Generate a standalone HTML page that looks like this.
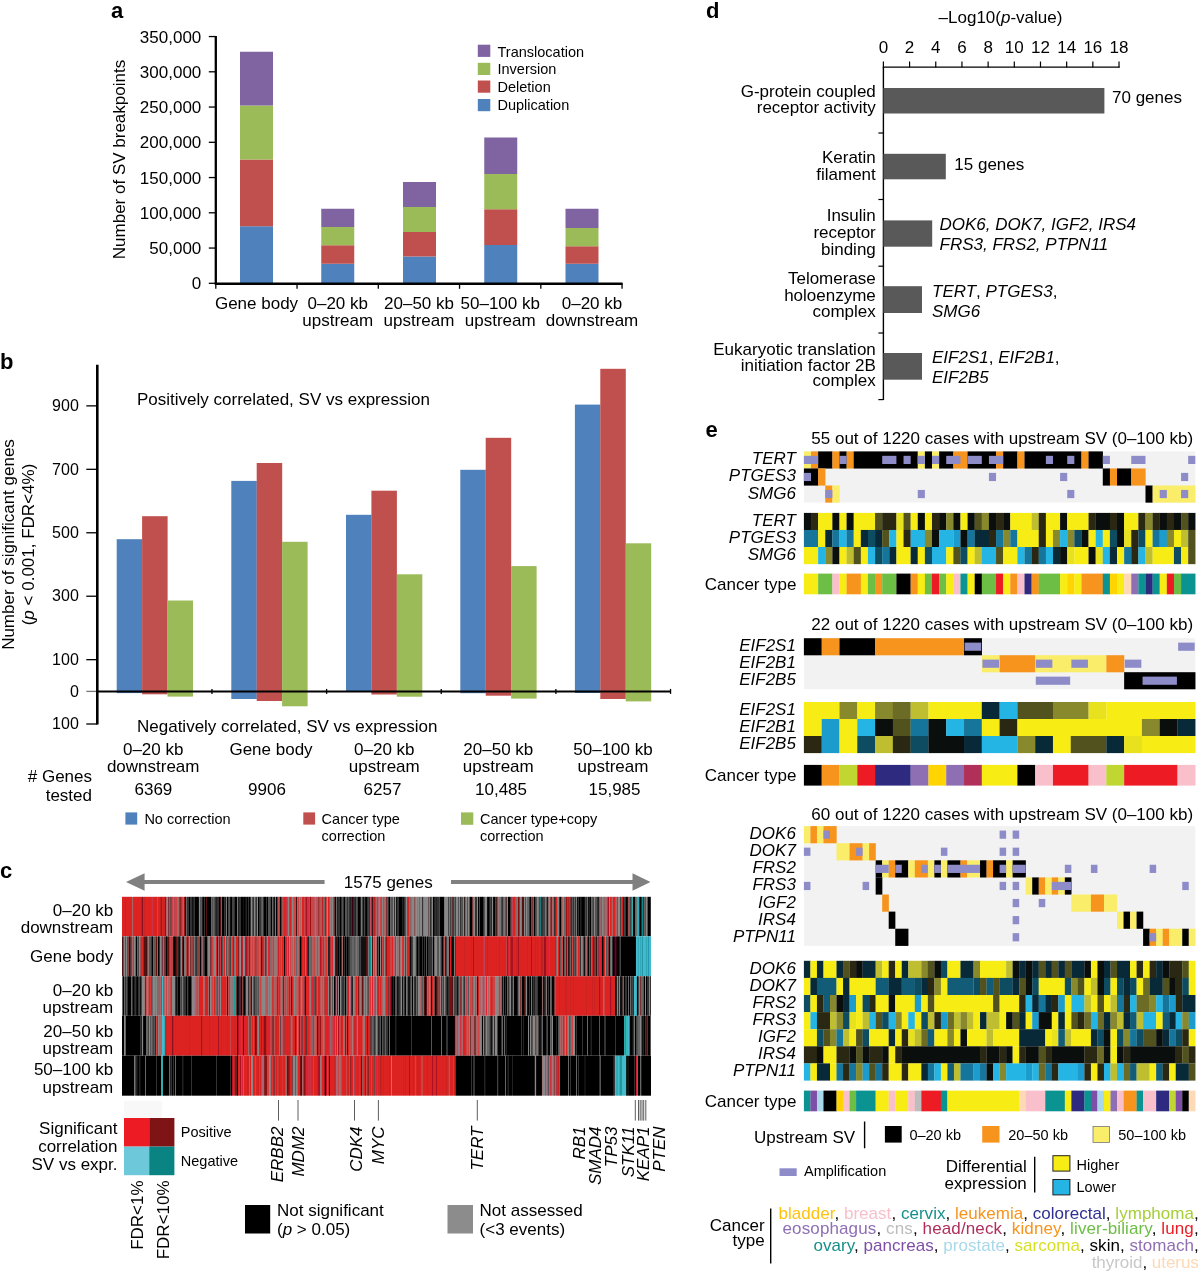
<!DOCTYPE html>
<html lang="en"><head><meta charset="utf-8"><title>Figure</title>
<style>
html,body{margin:0;padding:0;background:#fff}
svg{display:block}
text{font-family:"Liberation Sans",Arial,Helvetica,sans-serif;font-size:17px;fill:#000}
.b{font-weight:bold}
.i{font-style:italic}
</style></head><body>
<svg width="1200" height="1273" viewBox="0 0 1200 1273">
<rect width="1200" height="1273" fill="#fff"/>
<g id="panel-a">
<text x="111" y="17.5" style="font-size:22px" class="b">a</text>
<text transform="translate(124.5 159.5) rotate(-90)" text-anchor="middle">Number of SV breakpoints</text>
<line x1="208.8" y1="283.3" x2="215.8" y2="283.3" stroke="#000" stroke-width="1.3"/>
<text x="201.3" y="289.3" text-anchor="end">0</text>
<line x1="208.8" y1="248.05" x2="215.8" y2="248.05" stroke="#000" stroke-width="1.3"/>
<text x="201.3" y="254.05" text-anchor="end">50,000</text>
<line x1="208.8" y1="212.8" x2="215.8" y2="212.8" stroke="#000" stroke-width="1.3"/>
<text x="201.3" y="218.8" text-anchor="end">100,000</text>
<line x1="208.8" y1="177.55" x2="215.8" y2="177.55" stroke="#000" stroke-width="1.3"/>
<text x="201.3" y="183.55" text-anchor="end">150,000</text>
<line x1="208.8" y1="142.3" x2="215.8" y2="142.3" stroke="#000" stroke-width="1.3"/>
<text x="201.3" y="148.3" text-anchor="end">200,000</text>
<line x1="208.8" y1="107.05" x2="215.8" y2="107.05" stroke="#000" stroke-width="1.3"/>
<text x="201.3" y="113.05" text-anchor="end">250,000</text>
<line x1="208.8" y1="71.8" x2="215.8" y2="71.8" stroke="#000" stroke-width="1.3"/>
<text x="201.3" y="77.8" text-anchor="end">300,000</text>
<line x1="208.8" y1="36.55" x2="215.8" y2="36.55" stroke="#000" stroke-width="1.3"/>
<text x="201.3" y="42.55" text-anchor="end">350,000</text>
<rect x="240" y="226.25" width="33" height="57.05" fill="#4F81BD"/>
<rect x="240" y="159.5" width="33" height="66.75" fill="#C0504D"/>
<rect x="240" y="105.5" width="33" height="54" fill="#9BBB59"/>
<rect x="240" y="51.75" width="33" height="53.75" fill="#8064A2"/>
<rect x="321.25" y="263.75" width="33" height="19.55" fill="#4F81BD"/>
<rect x="321.25" y="245.25" width="33" height="18.5" fill="#C0504D"/>
<rect x="321.25" y="227" width="33" height="18.25" fill="#9BBB59"/>
<rect x="321.25" y="208.75" width="33" height="18.25" fill="#8064A2"/>
<rect x="403" y="256.5" width="33" height="26.8" fill="#4F81BD"/>
<rect x="403" y="232" width="33" height="24.5" fill="#C0504D"/>
<rect x="403" y="207" width="33" height="25" fill="#9BBB59"/>
<rect x="403" y="182" width="33" height="25" fill="#8064A2"/>
<rect x="484.25" y="245" width="33" height="38.3" fill="#4F81BD"/>
<rect x="484.25" y="209.25" width="33" height="35.75" fill="#C0504D"/>
<rect x="484.25" y="174" width="33" height="35.25" fill="#9BBB59"/>
<rect x="484.25" y="137.5" width="33" height="36.5" fill="#8064A2"/>
<rect x="565.5" y="263.75" width="33" height="19.55" fill="#4F81BD"/>
<rect x="565.5" y="246.25" width="33" height="17.5" fill="#C0504D"/>
<rect x="565.5" y="228" width="33" height="18.25" fill="#9BBB59"/>
<rect x="565.5" y="208.75" width="33" height="19.25" fill="#8064A2"/>
<line x1="215.8" y1="36" x2="215.8" y2="284.3" stroke="#000" stroke-width="2.3"/>
<line x1="214.8" y1="283.8" x2="622.5" y2="283.8" stroke="#000" stroke-width="2.4"/>
<line x1="215.8" y1="283.3" x2="215.8" y2="288.8" stroke="#000" stroke-width="1.3"/>
<line x1="297.05" y1="283.3" x2="297.05" y2="288.8" stroke="#000" stroke-width="1.3"/>
<line x1="378.3" y1="283.3" x2="378.3" y2="288.8" stroke="#000" stroke-width="1.3"/>
<line x1="459.55" y1="283.3" x2="459.55" y2="288.8" stroke="#000" stroke-width="1.3"/>
<line x1="540.8" y1="283.3" x2="540.8" y2="288.8" stroke="#000" stroke-width="1.3"/>
<line x1="622.05" y1="283.3" x2="622.05" y2="288.8" stroke="#000" stroke-width="1.3"/>
<text x="256.5" y="308.8" text-anchor="middle">Gene body</text>
<text x="337.75" y="308.8" text-anchor="middle">0–20 kb</text>
<text x="337.75" y="325.6" text-anchor="middle">upstream</text>
<text x="419" y="308.8" text-anchor="middle">20–50 kb</text>
<text x="419" y="325.6" text-anchor="middle">upstream</text>
<text x="500.25" y="308.8" text-anchor="middle">50–100 kb</text>
<text x="500.25" y="325.6" text-anchor="middle">upstream</text>
<text x="592" y="308.8" text-anchor="middle">0–20 kb</text>
<text x="592" y="325.6" text-anchor="middle">downstream</text>
<rect x="477.8" y="44.7" width="12.5" height="12.2" fill="#8064A2"/>
<text x="497.5" y="56.7" style="font-size:14.5px">Translocation</text>
<rect x="477.8" y="62.8" width="12.5" height="12.2" fill="#9BBB59"/>
<text x="497.5" y="73.9" style="font-size:14.5px">Inversion</text>
<rect x="477.8" y="80.5" width="12.5" height="12.2" fill="#C0504D"/>
<text x="497.5" y="92" style="font-size:14.5px">Deletion</text>
<rect x="477.8" y="99" width="12.5" height="12.2" fill="#4F81BD"/>
<text x="497.5" y="110.3" style="font-size:14.5px">Duplication</text>
</g>
<g id="panel-b">
<text x="0" y="369" style="font-size:22px" class="b">b</text>
<text transform="translate(13.9 544.5) rotate(-90)" text-anchor="middle">Number of significant genes</text>
<text transform="translate(33.7 544.5) rotate(-90)" text-anchor="middle">(<tspan class="i">p</tspan> &lt; 0.001, FDR&lt;4%)</text>
<line x1="86.3" y1="405.87" x2="97.3" y2="405.87" stroke="#000" stroke-width="1.3"/>
<text x="78.8" y="411.07" text-anchor="end" style="font-size:16px">900</text>
<line x1="86.3" y1="469.32" x2="97.3" y2="469.32" stroke="#000" stroke-width="1.3"/>
<text x="78.8" y="474.52" text-anchor="end" style="font-size:16px">700</text>
<line x1="86.3" y1="532.77" x2="97.3" y2="532.77" stroke="#000" stroke-width="1.3"/>
<text x="78.8" y="537.98" text-anchor="end" style="font-size:16px">500</text>
<line x1="86.3" y1="596.22" x2="97.3" y2="596.22" stroke="#000" stroke-width="1.3"/>
<text x="78.8" y="601.42" text-anchor="end" style="font-size:16px">300</text>
<line x1="86.3" y1="659.67" x2="97.3" y2="659.67" stroke="#000" stroke-width="1.3"/>
<text x="78.8" y="664.88" text-anchor="end" style="font-size:16px">100</text>
<line x1="86.3" y1="691.4" x2="97.3" y2="691.4" stroke="#777" stroke-width="1.3"/>
<text x="78.8" y="696.6" text-anchor="end" style="font-size:16px">0</text>
<line x1="86.3" y1="724" x2="97.3" y2="724" stroke="#000" stroke-width="1.3"/>
<text x="78.8" y="729.2" text-anchor="end" style="font-size:16px">100</text>
<rect x="116.7" y="539.2" width="25.5" height="153.9" fill="#4F81BD"/>
<rect x="142.1" y="516.2" width="25.5" height="178.1" fill="#C0504D"/>
<rect x="167.5" y="600.5" width="25.5" height="96.1" fill="#9BBB59"/>
<rect x="231.3" y="480.9" width="25.5" height="218.1" fill="#4F81BD"/>
<rect x="256.7" y="463" width="25.5" height="238" fill="#C0504D"/>
<rect x="282.1" y="541.8" width="25.5" height="164.5" fill="#9BBB59"/>
<rect x="346" y="514.8" width="25.5" height="176.8" fill="#4F81BD"/>
<rect x="371.4" y="490.7" width="25.5" height="203.8" fill="#C0504D"/>
<rect x="396.8" y="574.3" width="25.5" height="122.4" fill="#9BBB59"/>
<rect x="460.3" y="469.8" width="25.5" height="223.4" fill="#4F81BD"/>
<rect x="485.7" y="437.8" width="25.5" height="257.9" fill="#C0504D"/>
<rect x="511.1" y="566.1" width="25.5" height="132.5" fill="#9BBB59"/>
<rect x="574.9" y="404.6" width="25.5" height="288.4" fill="#4F81BD"/>
<rect x="600.3" y="368.8" width="25.5" height="330.2" fill="#C0504D"/>
<rect x="625.7" y="543.3" width="25.5" height="158.1" fill="#9BBB59"/>
<line x1="97.3" y1="364.8" x2="97.3" y2="724.6" stroke="#000" stroke-width="2.6"/>
<line x1="96.3" y1="691.4" x2="670.8" y2="691.4" stroke="#000" stroke-width="2"/>
<line x1="211.95" y1="688.9" x2="211.95" y2="693.9" stroke="#000" stroke-width="1.3"/>
<line x1="326.6" y1="688.9" x2="326.6" y2="693.9" stroke="#000" stroke-width="1.3"/>
<line x1="441.25" y1="688.9" x2="441.25" y2="693.9" stroke="#000" stroke-width="1.3"/>
<line x1="555.9" y1="688.9" x2="555.9" y2="693.9" stroke="#000" stroke-width="1.3"/>
<line x1="670.55" y1="688.9" x2="670.55" y2="693.9" stroke="#000" stroke-width="1.3"/>
<text x="137" y="404.7">Positively correlated, SV vs expression</text>
<text x="137" y="731.6">Negatively correlated, SV vs expression</text>
<text x="153.2" y="754.5" text-anchor="middle">0–20 kb</text>
<text x="153.2" y="771.9" text-anchor="middle">downstream</text>
<text x="153.4" y="794.8" text-anchor="middle">6369</text>
<text x="271" y="754.5" text-anchor="middle">Gene body</text>
<text x="267" y="794.8" text-anchor="middle">9906</text>
<text x="384.3" y="754.5" text-anchor="middle">0–20 kb</text>
<text x="384.3" y="771.9" text-anchor="middle">upstream</text>
<text x="382.5" y="794.8" text-anchor="middle">6257</text>
<text x="498.3" y="754.5" text-anchor="middle">20–50 kb</text>
<text x="498.3" y="771.9" text-anchor="middle">upstream</text>
<text x="501" y="794.8" text-anchor="middle">10,485</text>
<text x="613" y="754.5" text-anchor="middle">50–100 kb</text>
<text x="613" y="771.9" text-anchor="middle">upstream</text>
<text x="614.5" y="794.8" text-anchor="middle">15,985</text>
<text x="92" y="782" text-anchor="end"># Genes</text>
<text x="92" y="800.7" text-anchor="end">tested</text>
<rect x="125.4" y="812.4" width="11.8" height="12.2" fill="#4F81BD"/>
<text x="144.4" y="823.6" style="font-size:14.5px">No correction</text>
<rect x="303.3" y="812.4" width="11.8" height="12.2" fill="#C0504D"/>
<text x="321.6" y="823.6" style="font-size:14.5px">Cancer type</text>
<text x="321.6" y="840.8" style="font-size:14.5px">correction</text>
<rect x="461" y="812.4" width="12.3" height="12.4" fill="#9BBB59"/>
<text x="480" y="823.6" style="font-size:14.5px">Cancer type+copy</text>
<text x="480" y="840.8" style="font-size:14.5px">correction</text>
</g>
<g id="panel-c">
<text x="0" y="878.3" style="font-size:22px" class="b">c</text>
<path d="M126 882 L144.6 873.2 L144.6 880 L324.6 880 L324.6 884 L144.6 884 L144.6 890.8Z" fill="#808080"/>
<path d="M650.5 882 L632.5 873.2 L632.5 880 L451 880 L451 884 L632.5 884 L632.5 890.8Z" fill="#808080"/>
<text x="388.3" y="887.7" text-anchor="middle">1575 genes</text>
<text x="113.3" y="915.6" text-anchor="end">0–20 kb</text>
<text x="113.3" y="932.5" text-anchor="end">downstream</text>
<text x="113.3" y="962.3" text-anchor="end">Gene body</text>
<text x="113.3" y="995.8" text-anchor="end">0–20 kb</text>
<text x="113.3" y="1013.4" text-anchor="end">upstream</text>
<text x="113.3" y="1036.6" text-anchor="end">20–50 kb</text>
<text x="113.3" y="1054" text-anchor="end">upstream</text>
<text x="113.3" y="1075" text-anchor="end">50–100 kb</text>
<text x="113.3" y="1092.7" text-anchor="end">upstream</text>
<path d="M122.5 896.8v39.5M123.5 896.8v39.5M124.5 896.8v39.5M126.5 896.8v39.5M127.5 896.8v39.5M128.5 896.8v39.5M129.5 896.8v39.5M130.5 896.8v39.5M131.5 896.8v39.5M134.5 896.8v39.5M135.5 896.8v39.5M136.5 896.8v39.5M137.5 896.8v39.5M138.5 896.8v39.5M139.5 896.8v39.5M140.5 896.8v39.5M143.5 896.8v39.5M145.5 896.8v39.5M146.5 896.8v39.5M147.5 896.8v39.5M148.5 896.8v39.5M149.5 896.8v39.5M150.5 896.8v39.5M153.5 896.8v39.5M154.5 896.8v39.5M156.5 896.8v39.5M158.5 896.8v39.5M159.5 896.8v39.5M162.5 896.8v39.5M171.5 896.8v39.5M181.5 896.8v39.5M284.5 896.8v39.5M290.5 896.8v39.5M302.5 896.8v39.5M303.5 896.8v39.5M305.5 896.8v39.5M328.5 896.8v39.5M373.5 896.8v39.5M387.5 896.8v39.5M408.5 896.8v39.5M497.5 896.8v39.5M511.5 896.8v39.5M514.5 896.8v39.5M556.5 896.8v39.5M561.5 896.8v39.5M569.5 896.8v39.5M610.5 896.8v39.5M614.5 896.8v39.5" stroke="#d22"/>
<path d="M125.5 896.8v39.5M144.5 896.8v39.5M155.5 896.8v39.5M163.5 896.8v39.5M164.5 896.8v39.5M371.5 896.8v39.5M467.5 896.8v39.5M622.5 896.8v39.5" stroke="#c22"/>
<path d="M132.5 896.8v39.5M166.5 896.8v39.5M173.5 896.8v39.5M177.5 896.8v39.5M178.5 896.8v39.5M183.5 896.8v39.5M293.5 896.8v39.5M297.5 896.8v39.5M300.5 896.8v39.5M331.5 896.8v39.5M376.5 896.8v39.5M384.5 896.8v39.5M385.5 896.8v39.5M411.5 896.8v39.5M423.5 896.8v39.5M429.5 896.8v39.5M473.5 896.8v39.5M499.5 896.8v39.5M517.5 896.8v39.5M521.5 896.8v39.5M552.5 896.8v39.5M557.5 896.8v39.5M562.5 896.8v39.5M603.5 896.8v39.5M605.5 896.8v39.5M606.5 896.8v39.5M612.5 896.8v39.5M616.5 896.8v39.5" stroke="#a66"/>
<path d="M133.5 896.8v39.5M151.5 896.8v39.5M285.5 896.8v39.5M617.5 896.8v39.5" stroke="#d23"/>
<path d="M141.5 896.8v39.5M160.5 896.8v39.5M322.5 896.8v39.5M374.5 896.8v39.5M568.5 896.8v39.5" stroke="#b22"/>
<path d="M142.5 896.8v39.5" stroke="#812"/>
<path d="M152.5 896.8v39.5M283.5 896.8v39.5M286.5 896.8v39.5M289.5 896.8v39.5M308.5 896.8v39.5M333.5 896.8v39.5M377.5 896.8v39.5" stroke="#c34"/>
<path d="M157.5 896.8v39.5M169.5 896.8v39.5M172.5 896.8v39.5M175.5 896.8v39.5M176.5 896.8v39.5M182.5 896.8v39.5M294.5 896.8v39.5M295.5 896.8v39.5M298.5 896.8v39.5M304.5 896.8v39.5M311.5 896.8v39.5M312.5 896.8v39.5M313.5 896.8v39.5M326.5 896.8v39.5M329.5 896.8v39.5M380.5 896.8v39.5M383.5 896.8v39.5M419.5 896.8v39.5M515.5 896.8v39.5M615.5 896.8v39.5" stroke="#c44"/>
<path d="M161.5 896.8v39.5M281.5 896.8v39.5M306.5 896.8v39.5M608.5 896.8v39.5" stroke="#a12"/>
<path d="M165.5 896.8v39.5M184.5 896.8v39.5M310.5 896.8v39.5M566.5 896.8v39.5" stroke="#911"/>
<path d="M167.5 896.8v39.5M199.5 896.8v39.5M251.5 896.8v39.5M254.5 896.8v39.5M257.5 896.8v39.5M288.5 896.8v39.5M292.5 896.8v39.5M299.5 896.8v39.5M301.5 896.8v39.5M332.5 896.8v39.5M379.5 896.8v39.5M382.5 896.8v39.5M393.5 896.8v39.5M395.5 896.8v39.5M406.5 896.8v39.5M412.5 896.8v39.5M413.5 896.8v39.5M418.5 896.8v39.5M420.5 896.8v39.5M421.5 896.8v39.5M424.5 896.8v39.5M425.5 896.8v39.5M426.5 896.8v39.5M427.5 896.8v39.5M432.5 896.8v39.5M445.5 896.8v39.5M446.5 896.8v39.5M447.5 896.8v39.5M456.5 896.8v39.5M457.5 896.8v39.5M459.5 896.8v39.5M463.5 896.8v39.5M466.5 896.8v39.5M468.5 896.8v39.5M474.5 896.8v39.5M477.5 896.8v39.5M485.5 896.8v39.5M486.5 896.8v39.5M492.5 896.8v39.5M507.5 896.8v39.5M520.5 896.8v39.5M524.5 896.8v39.5M526.5 896.8v39.5M537.5 896.8v39.5M549.5 896.8v39.5M558.5 896.8v39.5M563.5 896.8v39.5M594.5 896.8v39.5M602.5 896.8v39.5M609.5 896.8v39.5M619.5 896.8v39.5M646.5 896.8v39.5" stroke="#888"/>
<path d="M168.5 896.8v39.5M439.5 896.8v39.5M501.5 896.8v39.5M539.5 896.8v39.5" stroke="#734"/>
<path d="M170.5 896.8v39.5" stroke="#744"/>
<path d="M174.5 896.8v39.5M287.5 896.8v39.5M291.5 896.8v39.5M309.5 896.8v39.5M465.5 896.8v39.5M512.5 896.8v39.5" stroke="#b45"/>
<path d="M179.5 896.8v39.5M200.5 896.8v39.5M212.5 896.8v39.5M214.5 896.8v39.5M229.5 896.8v39.5M252.5 896.8v39.5M255.5 896.8v39.5M261.5 896.8v39.5M268.5 896.8v39.5M269.5 896.8v39.5M342.5 896.8v39.5M345.5 896.8v39.5M346.5 896.8v39.5M348.5 896.8v39.5M356.5 896.8v39.5M391.5 896.8v39.5M392.5 896.8v39.5M431.5 896.8v39.5M458.5 896.8v39.5M461.5 896.8v39.5M462.5 896.8v39.5M469.5 896.8v39.5M484.5 896.8v39.5M519.5 896.8v39.5M531.5 896.8v39.5M536.5 896.8v39.5M546.5 896.8v39.5M572.5 896.8v39.5M592.5 896.8v39.5M595.5 896.8v39.5M596.5 896.8v39.5M645.5 896.8v39.5M647.5 896.8v39.5" stroke="#555"/>
<path d="M180.5 896.8v39.5" stroke="#822"/>
<path d="M185.5 896.8v39.5" stroke="#200"/>
<path d="M186.5 896.8v39.5M211.5 896.8v39.5M213.5 896.8v39.5M221.5 896.8v39.5M262.5 896.8v39.5M272.5 896.8v39.5M336.5 896.8v39.5M390.5 896.8v39.5M451.5 896.8v39.5M454.5 896.8v39.5M503.5 896.8v39.5M527.5 896.8v39.5M528.5 896.8v39.5M533.5 896.8v39.5M564.5 896.8v39.5M565.5 896.8v39.5M574.5 896.8v39.5M587.5 896.8v39.5M591.5 896.8v39.5M599.5 896.8v39.5M601.5 896.8v39.5M611.5 896.8v39.5M621.5 896.8v39.5M629.5 896.8v39.5M635.5 896.8v39.5M644.5 896.8v39.5" stroke="#666"/>
<path d="M187.5 896.8v39.5M188.5 896.8v39.5M190.5 896.8v39.5M191.5 896.8v39.5M194.5 896.8v39.5M204.5 896.8v39.5M215.5 896.8v39.5M217.5 896.8v39.5M218.5 896.8v39.5M224.5 896.8v39.5M234.5 896.8v39.5M239.5 896.8v39.5M240.5 896.8v39.5M248.5 896.8v39.5M250.5 896.8v39.5M253.5 896.8v39.5M256.5 896.8v39.5M259.5 896.8v39.5M260.5 896.8v39.5M263.5 896.8v39.5M266.5 896.8v39.5M273.5 896.8v39.5M338.5 896.8v39.5M339.5 896.8v39.5M341.5 896.8v39.5M343.5 896.8v39.5M347.5 896.8v39.5M349.5 896.8v39.5M351.5 896.8v39.5M354.5 896.8v39.5M367.5 896.8v39.5M369.5 896.8v39.5M388.5 896.8v39.5M394.5 896.8v39.5M397.5 896.8v39.5M398.5 896.8v39.5M404.5 896.8v39.5M422.5 896.8v39.5M430.5 896.8v39.5M435.5 896.8v39.5M437.5 896.8v39.5M438.5 896.8v39.5M460.5 896.8v39.5M475.5 896.8v39.5M476.5 896.8v39.5M483.5 896.8v39.5M502.5 896.8v39.5M529.5 896.8v39.5M541.5 896.8v39.5M542.5 896.8v39.5M554.5 896.8v39.5M559.5 896.8v39.5M571.5 896.8v39.5M573.5 896.8v39.5M575.5 896.8v39.5M578.5 896.8v39.5M586.5 896.8v39.5M597.5 896.8v39.5M625.5 896.8v39.5M639.5 896.8v39.5M641.5 896.8v39.5M643.5 896.8v39.5M650.5 896.8v39.5" stroke="#333"/>
<path d="M189.5 896.8v39.5M195.5 896.8v39.5M196.5 896.8v39.5M197.5 896.8v39.5M203.5 896.8v39.5M205.5 896.8v39.5M207.5 896.8v39.5M208.5 896.8v39.5M209.5 896.8v39.5M210.5 896.8v39.5M219.5 896.8v39.5M222.5 896.8v39.5M223.5 896.8v39.5M227.5 896.8v39.5M231.5 896.8v39.5M235.5 896.8v39.5M236.5 896.8v39.5M241.5 896.8v39.5M242.5 896.8v39.5M244.5 896.8v39.5M247.5 896.8v39.5M249.5 896.8v39.5M258.5 896.8v39.5M264.5 896.8v39.5M265.5 896.8v39.5M267.5 896.8v39.5M271.5 896.8v39.5M276.5 896.8v39.5M280.5 896.8v39.5M335.5 896.8v39.5M340.5 896.8v39.5M344.5 896.8v39.5M358.5 896.8v39.5M359.5 896.8v39.5M366.5 896.8v39.5M389.5 896.8v39.5M399.5 896.8v39.5M400.5 896.8v39.5M401.5 896.8v39.5M433.5 896.8v39.5M440.5 896.8v39.5M441.5 896.8v39.5M442.5 896.8v39.5M443.5 896.8v39.5M470.5 896.8v39.5M471.5 896.8v39.5M478.5 896.8v39.5M480.5 896.8v39.5M481.5 896.8v39.5M482.5 896.8v39.5M488.5 896.8v39.5M494.5 896.8v39.5M508.5 896.8v39.5M509.5 896.8v39.5M530.5 896.8v39.5M534.5 896.8v39.5M560.5 896.8v39.5M579.5 896.8v39.5M582.5 896.8v39.5M583.5 896.8v39.5M590.5 896.8v39.5M626.5 896.8v39.5M633.5 896.8v39.5M634.5 896.8v39.5M640.5 896.8v39.5M648.5 896.8v39.5M649.5 896.8v39.5" stroke="#000"/>
<path d="M192.5 896.8v39.5M198.5 896.8v39.5M230.5 896.8v39.5M245.5 896.8v39.5M274.5 896.8v39.5M363.5 896.8v39.5M365.5 896.8v39.5M396.5 896.8v39.5M403.5 896.8v39.5M487.5 896.8v39.5M493.5 896.8v39.5M577.5 896.8v39.5M581.5 896.8v39.5M584.5 896.8v39.5M588.5 896.8v39.5M627.5 896.8v39.5" stroke="#111"/>
<path d="M193.5 896.8v39.5M202.5 896.8v39.5M216.5 896.8v39.5M225.5 896.8v39.5M238.5 896.8v39.5M246.5 896.8v39.5M337.5 896.8v39.5M350.5 896.8v39.5M355.5 896.8v39.5M360.5 896.8v39.5M402.5 896.8v39.5M434.5 896.8v39.5M436.5 896.8v39.5M489.5 896.8v39.5M580.5 896.8v39.5M589.5 896.8v39.5M598.5 896.8v39.5" stroke="#222"/>
<path d="M201.5 896.8v39.5M505.5 896.8v39.5M550.5 896.8v39.5M567.5 896.8v39.5M613.5 896.8v39.5" stroke="#844"/>
<path d="M206.5 896.8v39.5M220.5 896.8v39.5M522.5 896.8v39.5M523.5 896.8v39.5" stroke="#511"/>
<path d="M226.5 896.8v39.5M237.5 896.8v39.5M275.5 896.8v39.5M361.5 896.8v39.5M444.5 896.8v39.5M449.5 896.8v39.5M500.5 896.8v39.5M504.5 896.8v39.5M538.5 896.8v39.5M545.5 896.8v39.5M576.5 896.8v39.5" stroke="#777"/>
<path d="M228.5 896.8v39.5M232.5 896.8v39.5M233.5 896.8v39.5M270.5 896.8v39.5M277.5 896.8v39.5M325.5 896.8v39.5M357.5 896.8v39.5M362.5 896.8v39.5M364.5 896.8v39.5M368.5 896.8v39.5M448.5 896.8v39.5M450.5 896.8v39.5M455.5 896.8v39.5M490.5 896.8v39.5M495.5 896.8v39.5M535.5 896.8v39.5M543.5 896.8v39.5M544.5 896.8v39.5M585.5 896.8v39.5M593.5 896.8v39.5M620.5 896.8v39.5M624.5 896.8v39.5M630.5 896.8v39.5" stroke="#444"/>
<path d="M243.5 896.8v39.5M352.5 896.8v39.5" stroke="#301"/>
<path d="M278.5 896.8v39.5M316.5 896.8v39.5M317.5 896.8v39.5M320.5 896.8v39.5M321.5 896.8v39.5M409.5 896.8v39.5" stroke="#b55"/>
<path d="M279.5 896.8v39.5M307.5 896.8v39.5M607.5 896.8v39.5" stroke="#a44"/>
<path d="M282.5 896.8v39.5" stroke="#a55"/>
<path d="M296.5 896.8v39.5M372.5 896.8v39.5" stroke="#411"/>
<path d="M314.5 896.8v39.5M370.5 896.8v39.5" stroke="#b56"/>
<path d="M315.5 896.8v39.5M330.5 896.8v39.5M417.5 896.8v39.5M498.5 896.8v39.5" stroke="#977"/>
<path d="M318.5 896.8v39.5M405.5 896.8v39.5" stroke="#933"/>
<path d="M319.5 896.8v39.5" stroke="#d33"/>
<path d="M323.5 896.8v39.5M324.5 896.8v39.5" stroke="#766"/>
<path d="M327.5 896.8v39.5M416.5 896.8v39.5M618.5 896.8v39.5" stroke="#988"/>
<path d="M334.5 896.8v39.5M555.5 896.8v39.5" stroke="#633"/>
<path d="M353.5 896.8v39.5" stroke="#611"/>
<path d="M375.5 896.8v39.5" stroke="#a45"/>
<path d="M378.5 896.8v39.5" stroke="#a67"/>
<path d="M381.5 896.8v39.5" stroke="#b44"/>
<path d="M386.5 896.8v39.5M472.5 896.8v39.5M479.5 896.8v39.5M532.5 896.8v39.5M570.5 896.8v39.5" stroke="#733"/>
<path d="M407.5 896.8v39.5" stroke="#b33"/>
<path d="M410.5 896.8v39.5M516.5 896.8v39.5M548.5 896.8v39.5M553.5 896.8v39.5M604.5 896.8v39.5" stroke="#866"/>
<path d="M414.5 896.8v39.5" stroke="#855"/>
<path d="M415.5 896.8v39.5" stroke="#877"/>
<path d="M428.5 896.8v39.5M513.5 896.8v39.5" stroke="#655"/>
<path d="M452.5 896.8v39.5M453.5 896.8v39.5M506.5 896.8v39.5M551.5 896.8v39.5" stroke="#533"/>
<path d="M464.5 896.8v39.5M623.5 896.8v39.5" stroke="#322"/>
<path d="M491.5 896.8v39.5M496.5 896.8v39.5" stroke="#422"/>
<path d="M510.5 896.8v39.5" stroke="#433"/>
<path d="M518.5 896.8v39.5" stroke="#711"/>
<path d="M525.5 896.8v39.5" stroke="#644"/>
<path d="M540.5 896.8v39.5" stroke="#277"/>
<path d="M547.5 896.8v39.5" stroke="#311"/>
<path d="M600.5 896.8v39.5" stroke="#966"/>
<path d="M628.5 896.8v39.5" stroke="#955"/>
<path d="M631.5 896.8v39.5" stroke="#566"/>
<path d="M632.5 896.8v39.5" stroke="#3aa"/>
<path d="M636.5 896.8v39.5" stroke="#677"/>
<path d="M637.5 896.8v39.5M638.5 896.8v39.5" stroke="#3ab"/>
<path d="M642.5 896.8v39.5" stroke="#188"/>
<path d="M122.5 936.3v39.9M144.5 936.3v39.9M145.5 936.3v39.9M217.5 936.3v39.9M366.5 936.3v39.9M615.5 936.3v39.9" stroke="#511"/>
<path d="M123.5 936.3v39.9M125.5 936.3v39.9M127.5 936.3v39.9M149.5 936.3v39.9M150.5 936.3v39.9M180.5 936.3v39.9M197.5 936.3v39.9M222.5 936.3v39.9M226.5 936.3v39.9M229.5 936.3v39.9M350.5 936.3v39.9M351.5 936.3v39.9M354.5 936.3v39.9M369.5 936.3v39.9M378.5 936.3v39.9M426.5 936.3v39.9M438.5 936.3v39.9M564.5 936.3v39.9M574.5 936.3v39.9M601.5 936.3v39.9M606.5 936.3v39.9" stroke="#555"/>
<path d="M124.5 936.3v39.9M126.5 936.3v39.9M134.5 936.3v39.9M139.5 936.3v39.9M160.5 936.3v39.9M181.5 936.3v39.9M189.5 936.3v39.9M208.5 936.3v39.9M209.5 936.3v39.9M214.5 936.3v39.9M215.5 936.3v39.9M243.5 936.3v39.9M244.5 936.3v39.9M267.5 936.3v39.9M293.5 936.3v39.9M333.5 936.3v39.9M334.5 936.3v39.9M373.5 936.3v39.9M375.5 936.3v39.9M380.5 936.3v39.9M384.5 936.3v39.9M404.5 936.3v39.9M413.5 936.3v39.9M414.5 936.3v39.9M435.5 936.3v39.9M436.5 936.3v39.9M439.5 936.3v39.9M557.5 936.3v39.9M581.5 936.3v39.9M605.5 936.3v39.9" stroke="#888"/>
<path d="M128.5 936.3v39.9M198.5 936.3v39.9M201.5 936.3v39.9M437.5 936.3v39.9" stroke="#844"/>
<path d="M129.5 936.3v39.9M173.5 936.3v39.9M336.5 936.3v39.9M568.5 936.3v39.9M596.5 936.3v39.9" stroke="#311"/>
<path d="M130.5 936.3v39.9M455.5 936.3v39.9" stroke="#533"/>
<path d="M131.5 936.3v39.9M262.5 936.3v39.9M510.5 936.3v39.9M541.5 936.3v39.9M542.5 936.3v39.9M595.5 936.3v39.9" stroke="#b22"/>
<path d="M132.5 936.3v39.9M163.5 936.3v39.9M213.5 936.3v39.9M239.5 936.3v39.9M251.5 936.3v39.9M253.5 936.3v39.9M259.5 936.3v39.9M264.5 936.3v39.9M272.5 936.3v39.9M287.5 936.3v39.9M292.5 936.3v39.9M295.5 936.3v39.9M297.5 936.3v39.9M298.5 936.3v39.9M305.5 936.3v39.9M312.5 936.3v39.9M315.5 936.3v39.9M324.5 936.3v39.9M327.5 936.3v39.9M342.5 936.3v39.9M376.5 936.3v39.9M393.5 936.3v39.9M397.5 936.3v39.9M586.5 936.3v39.9M611.5 936.3v39.9" stroke="#a66"/>
<path d="M133.5 936.3v39.9M220.5 936.3v39.9M483.5 936.3v39.9M509.5 936.3v39.9M549.5 936.3v39.9" stroke="#c34"/>
<path d="M135.5 936.3v39.9M137.5 936.3v39.9M153.5 936.3v39.9M171.5 936.3v39.9M296.5 936.3v39.9M310.5 936.3v39.9M352.5 936.3v39.9M353.5 936.3v39.9M355.5 936.3v39.9M357.5 936.3v39.9M358.5 936.3v39.9M432.5 936.3v39.9M434.5 936.3v39.9M440.5 936.3v39.9M570.5 936.3v39.9M607.5 936.3v39.9M610.5 936.3v39.9" stroke="#666"/>
<path d="M136.5 936.3v39.9M152.5 936.3v39.9M158.5 936.3v39.9M166.5 936.3v39.9M174.5 936.3v39.9M183.5 936.3v39.9M200.5 936.3v39.9M205.5 936.3v39.9M206.5 936.3v39.9M300.5 936.3v39.9M338.5 936.3v39.9M340.5 936.3v39.9M343.5 936.3v39.9M345.5 936.3v39.9M347.5 936.3v39.9M379.5 936.3v39.9M410.5 936.3v39.9M417.5 936.3v39.9M420.5 936.3v39.9M421.5 936.3v39.9M423.5 936.3v39.9M425.5 936.3v39.9M427.5 936.3v39.9M433.5 936.3v39.9M442.5 936.3v39.9M452.5 936.3v39.9M563.5 936.3v39.9M588.5 936.3v39.9M602.5 936.3v39.9M609.5 936.3v39.9M613.5 936.3v39.9M617.5 936.3v39.9M618.5 936.3v39.9M621.5 936.3v39.9M622.5 936.3v39.9M623.5 936.3v39.9M624.5 936.3v39.9M625.5 936.3v39.9M626.5 936.3v39.9M627.5 936.3v39.9M628.5 936.3v39.9M629.5 936.3v39.9M630.5 936.3v39.9M631.5 936.3v39.9M632.5 936.3v39.9M633.5 936.3v39.9M634.5 936.3v39.9" stroke="#000"/>
<path d="M138.5 936.3v39.9M195.5 936.3v39.9M230.5 936.3v39.9M360.5 936.3v39.9M412.5 936.3v39.9M446.5 936.3v39.9M575.5 936.3v39.9M587.5 936.3v39.9M620.5 936.3v39.9" stroke="#444"/>
<path d="M140.5 936.3v39.9M228.5 936.3v39.9M576.5 936.3v39.9" stroke="#955"/>
<path d="M141.5 936.3v39.9M142.5 936.3v39.9M147.5 936.3v39.9M169.5 936.3v39.9M207.5 936.3v39.9M224.5 936.3v39.9M236.5 936.3v39.9M237.5 936.3v39.9M247.5 936.3v39.9M255.5 936.3v39.9M263.5 936.3v39.9M282.5 936.3v39.9M285.5 936.3v39.9M299.5 936.3v39.9M302.5 936.3v39.9M321.5 936.3v39.9M323.5 936.3v39.9M383.5 936.3v39.9M385.5 936.3v39.9M387.5 936.3v39.9M388.5 936.3v39.9M389.5 936.3v39.9M392.5 936.3v39.9M395.5 936.3v39.9M407.5 936.3v39.9M408.5 936.3v39.9M450.5 936.3v39.9M456.5 936.3v39.9M457.5 936.3v39.9M458.5 936.3v39.9M459.5 936.3v39.9M460.5 936.3v39.9M461.5 936.3v39.9M462.5 936.3v39.9M463.5 936.3v39.9M465.5 936.3v39.9M466.5 936.3v39.9M467.5 936.3v39.9M468.5 936.3v39.9M469.5 936.3v39.9M470.5 936.3v39.9M472.5 936.3v39.9M474.5 936.3v39.9M475.5 936.3v39.9M476.5 936.3v39.9M477.5 936.3v39.9M478.5 936.3v39.9M479.5 936.3v39.9M480.5 936.3v39.9M481.5 936.3v39.9M482.5 936.3v39.9M485.5 936.3v39.9M486.5 936.3v39.9M488.5 936.3v39.9M489.5 936.3v39.9M490.5 936.3v39.9M491.5 936.3v39.9M492.5 936.3v39.9M493.5 936.3v39.9M494.5 936.3v39.9M495.5 936.3v39.9M496.5 936.3v39.9M497.5 936.3v39.9M498.5 936.3v39.9M500.5 936.3v39.9M501.5 936.3v39.9M502.5 936.3v39.9M503.5 936.3v39.9M504.5 936.3v39.9M505.5 936.3v39.9M513.5 936.3v39.9M514.5 936.3v39.9M515.5 936.3v39.9M519.5 936.3v39.9M520.5 936.3v39.9M521.5 936.3v39.9M522.5 936.3v39.9M523.5 936.3v39.9M524.5 936.3v39.9M525.5 936.3v39.9M526.5 936.3v39.9M528.5 936.3v39.9M529.5 936.3v39.9M530.5 936.3v39.9M532.5 936.3v39.9M533.5 936.3v39.9M534.5 936.3v39.9M536.5 936.3v39.9M538.5 936.3v39.9M539.5 936.3v39.9M540.5 936.3v39.9M543.5 936.3v39.9M546.5 936.3v39.9M547.5 936.3v39.9M550.5 936.3v39.9M551.5 936.3v39.9M552.5 936.3v39.9M553.5 936.3v39.9M554.5 936.3v39.9M558.5 936.3v39.9M578.5 936.3v39.9M592.5 936.3v39.9M599.5 936.3v39.9M604.5 936.3v39.9" stroke="#d22"/>
<path d="M143.5 936.3v39.9M233.5 936.3v39.9M320.5 936.3v39.9M409.5 936.3v39.9" stroke="#b12"/>
<path d="M146.5 936.3v39.9M372.5 936.3v39.9M377.5 936.3v39.9" stroke="#411"/>
<path d="M148.5 936.3v39.9M235.5 936.3v39.9M274.5 936.3v39.9M275.5 936.3v39.9M276.5 936.3v39.9M316.5 936.3v39.9M318.5 936.3v39.9M398.5 936.3v39.9M400.5 936.3v39.9M406.5 936.3v39.9M577.5 936.3v39.9" stroke="#977"/>
<path d="M151.5 936.3v39.9" stroke="#623"/>
<path d="M154.5 936.3v39.9M211.5 936.3v39.9M560.5 936.3v39.9" stroke="#655"/>
<path d="M155.5 936.3v39.9M192.5 936.3v39.9M269.5 936.3v39.9" stroke="#944"/>
<path d="M156.5 936.3v39.9M168.5 936.3v39.9M176.5 936.3v39.9" stroke="#611"/>
<path d="M157.5 936.3v39.9M270.5 936.3v39.9M556.5 936.3v39.9" stroke="#866"/>
<path d="M159.5 936.3v39.9M167.5 936.3v39.9M196.5 936.3v39.9M204.5 936.3v39.9M221.5 936.3v39.9M339.5 936.3v39.9M341.5 936.3v39.9M344.5 936.3v39.9M346.5 936.3v39.9M349.5 936.3v39.9M359.5 936.3v39.9M367.5 936.3v39.9M381.5 936.3v39.9M411.5 936.3v39.9M416.5 936.3v39.9M418.5 936.3v39.9M422.5 936.3v39.9M424.5 936.3v39.9M428.5 936.3v39.9M429.5 936.3v39.9M430.5 936.3v39.9M431.5 936.3v39.9M441.5 936.3v39.9M569.5 936.3v39.9M580.5 936.3v39.9M603.5 936.3v39.9M612.5 936.3v39.9" stroke="#333"/>
<path d="M161.5 936.3v39.9M170.5 936.3v39.9M212.5 936.3v39.9M250.5 936.3v39.9M252.5 936.3v39.9M254.5 936.3v39.9M257.5 936.3v39.9M258.5 936.3v39.9M260.5 936.3v39.9M279.5 936.3v39.9M290.5 936.3v39.9M294.5 936.3v39.9M309.5 936.3v39.9M314.5 936.3v39.9M317.5 936.3v39.9M322.5 936.3v39.9M325.5 936.3v39.9M331.5 936.3v39.9M374.5 936.3v39.9M382.5 936.3v39.9M390.5 936.3v39.9M391.5 936.3v39.9M561.5 936.3v39.9M562.5 936.3v39.9M565.5 936.3v39.9M567.5 936.3v39.9M572.5 936.3v39.9" stroke="#c44"/>
<path d="M162.5 936.3v39.9" stroke="#734"/>
<path d="M164.5 936.3v39.9M190.5 936.3v39.9M203.5 936.3v39.9M210.5 936.3v39.9M241.5 936.3v39.9M245.5 936.3v39.9M405.5 936.3v39.9M594.5 936.3v39.9M608.5 936.3v39.9" stroke="#733"/>
<path d="M165.5 936.3v39.9M219.5 936.3v39.9M443.5 936.3v39.9" stroke="#633"/>
<path d="M172.5 936.3v39.9M248.5 936.3v39.9M506.5 936.3v39.9" stroke="#b44"/>
<path d="M175.5 936.3v39.9M614.5 936.3v39.9M616.5 936.3v39.9" stroke="#301"/>
<path d="M177.5 936.3v39.9M544.5 936.3v39.9M545.5 936.3v39.9M559.5 936.3v39.9" stroke="#912"/>
<path d="M178.5 936.3v39.9M308.5 936.3v39.9M328.5 936.3v39.9M337.5 936.3v39.9M348.5 936.3v39.9M419.5 936.3v39.9M619.5 936.3v39.9" stroke="#222"/>
<path d="M179.5 936.3v39.9M361.5 936.3v39.9M362.5 936.3v39.9M363.5 936.3v39.9M364.5 936.3v39.9M365.5 936.3v39.9M453.5 936.3v39.9M584.5 936.3v39.9" stroke="#111"/>
<path d="M182.5 936.3v39.9" stroke="#622"/>
<path d="M184.5 936.3v39.9M194.5 936.3v39.9M227.5 936.3v39.9M231.5 936.3v39.9M234.5 936.3v39.9M319.5 936.3v39.9M356.5 936.3v39.9M368.5 936.3v39.9M415.5 936.3v39.9M447.5 936.3v39.9M448.5 936.3v39.9M454.5 936.3v39.9" stroke="#777"/>
<path d="M185.5 936.3v39.9M582.5 936.3v39.9" stroke="#877"/>
<path d="M186.5 936.3v39.9M256.5 936.3v39.9M283.5 936.3v39.9M303.5 936.3v39.9M311.5 936.3v39.9" stroke="#a44"/>
<path d="M187.5 936.3v39.9M307.5 936.3v39.9" stroke="#433"/>
<path d="M188.5 936.3v39.9M330.5 936.3v39.9M399.5 936.3v39.9" stroke="#a33"/>
<path d="M191.5 936.3v39.9M597.5 936.3v39.9" stroke="#855"/>
<path d="M193.5 936.3v39.9" stroke="#a23"/>
<path d="M199.5 936.3v39.9M278.5 936.3v39.9M304.5 936.3v39.9M464.5 936.3v39.9M471.5 936.3v39.9M487.5 936.3v39.9M499.5 936.3v39.9M516.5 936.3v39.9M517.5 936.3v39.9M527.5 936.3v39.9M535.5 936.3v39.9M537.5 936.3v39.9" stroke="#c22"/>
<path d="M202.5 936.3v39.9M218.5 936.3v39.9M591.5 936.3v39.9" stroke="#966"/>
<path d="M216.5 936.3v39.9M268.5 936.3v39.9M288.5 936.3v39.9M306.5 936.3v39.9M332.5 936.3v39.9M508.5 936.3v39.9M548.5 936.3v39.9M600.5 936.3v39.9" stroke="#d23"/>
<path d="M223.5 936.3v39.9M271.5 936.3v39.9M277.5 936.3v39.9M281.5 936.3v39.9M444.5 936.3v39.9" stroke="#b55"/>
<path d="M225.5 936.3v39.9M240.5 936.3v39.9M289.5 936.3v39.9M396.5 936.3v39.9M401.5 936.3v39.9" stroke="#988"/>
<path d="M232.5 936.3v39.9M273.5 936.3v39.9M280.5 936.3v39.9M326.5 936.3v39.9M402.5 936.3v39.9" stroke="#d33"/>
<path d="M238.5 936.3v39.9" stroke="#822"/>
<path d="M242.5 936.3v39.9" stroke="#b23"/>
<path d="M246.5 936.3v39.9M249.5 936.3v39.9M265.5 936.3v39.9M473.5 936.3v39.9M507.5 936.3v39.9M511.5 936.3v39.9M512.5 936.3v39.9M518.5 936.3v39.9M531.5 936.3v39.9M573.5 936.3v39.9" stroke="#a12"/>
<path d="M261.5 936.3v39.9M335.5 936.3v39.9M445.5 936.3v39.9M590.5 936.3v39.9" stroke="#322"/>
<path d="M266.5 936.3v39.9M585.5 936.3v39.9" stroke="#755"/>
<path d="M284.5 936.3v39.9" stroke="#100"/>
<path d="M286.5 936.3v39.9" stroke="#c23"/>
<path d="M291.5 936.3v39.9M394.5 936.3v39.9" stroke="#a67"/>
<path d="M301.5 936.3v39.9M386.5 936.3v39.9" stroke="#911"/>
<path d="M313.5 936.3v39.9" stroke="#b56"/>
<path d="M329.5 936.3v39.9" stroke="#512"/>
<path d="M370.5 936.3v39.9" stroke="#199"/>
<path d="M371.5 936.3v39.9" stroke="#5ab"/>
<path d="M403.5 936.3v39.9" stroke="#b33"/>
<path d="M449.5 936.3v39.9" stroke="#300"/>
<path d="M451.5 936.3v39.9M566.5 936.3v39.9" stroke="#711"/>
<path d="M484.5 936.3v39.9" stroke="#b45"/>
<path d="M555.5 936.3v39.9" stroke="#744"/>
<path d="M571.5 936.3v39.9M593.5 936.3v39.9" stroke="#811"/>
<path d="M579.5 936.3v39.9" stroke="#c33"/>
<path d="M583.5 936.3v39.9" stroke="#833"/>
<path d="M589.5 936.3v39.9" stroke="#845"/>
<path d="M598.5 936.3v39.9" stroke="#834"/>
<path d="M635.5 936.3v39.9" stroke="#011"/>
<path d="M636.5 936.3v39.9M639.5 936.3v39.9M643.5 936.3v39.9M644.5 936.3v39.9M649.5 936.3v39.9M650.5 936.3v39.9" stroke="#4bc"/>
<path d="M637.5 936.3v39.9M641.5 936.3v39.9M645.5 936.3v39.9M647.5 936.3v39.9" stroke="#3bc"/>
<path d="M638.5 936.3v39.9M640.5 936.3v39.9M646.5 936.3v39.9" stroke="#3ab"/>
<path d="M642.5 936.3v39.9M648.5 936.3v39.9" stroke="#29a"/>
<path d="M122.5 976.2v39.6M124.5 976.2v39.6M131.5 976.2v39.6M152.5 976.2v39.6M216.5 976.2v39.6M249.5 976.2v39.6M257.5 976.2v39.6M346.5 976.2v39.6M403.5 976.2v39.6M411.5 976.2v39.6M416.5 976.2v39.6M442.5 976.2v39.6M507.5 976.2v39.6M509.5 976.2v39.6M518.5 976.2v39.6M521.5 976.2v39.6M550.5 976.2v39.6M623.5 976.2v39.6M628.5 976.2v39.6M630.5 976.2v39.6M641.5 976.2v39.6M642.5 976.2v39.6" stroke="#666"/>
<path d="M123.5 976.2v39.6M128.5 976.2v39.6M129.5 976.2v39.6M130.5 976.2v39.6M133.5 976.2v39.6M137.5 976.2v39.6M178.5 976.2v39.6M179.5 976.2v39.6M186.5 976.2v39.6M189.5 976.2v39.6M190.5 976.2v39.6M237.5 976.2v39.6M244.5 976.2v39.6M334.5 976.2v39.6M339.5 976.2v39.6M345.5 976.2v39.6M392.5 976.2v39.6M394.5 976.2v39.6M405.5 976.2v39.6M412.5 976.2v39.6M425.5 976.2v39.6M431.5 976.2v39.6M435.5 976.2v39.6M504.5 976.2v39.6M506.5 976.2v39.6M514.5 976.2v39.6M515.5 976.2v39.6M516.5 976.2v39.6M522.5 976.2v39.6M523.5 976.2v39.6M528.5 976.2v39.6M530.5 976.2v39.6M538.5 976.2v39.6M539.5 976.2v39.6M540.5 976.2v39.6M549.5 976.2v39.6M552.5 976.2v39.6M624.5 976.2v39.6M627.5 976.2v39.6M629.5 976.2v39.6M637.5 976.2v39.6M644.5 976.2v39.6M646.5 976.2v39.6" stroke="#000"/>
<path d="M125.5 976.2v39.6M127.5 976.2v39.6M132.5 976.2v39.6M135.5 976.2v39.6M138.5 976.2v39.6M175.5 976.2v39.6M177.5 976.2v39.6M184.5 976.2v39.6M185.5 976.2v39.6M209.5 976.2v39.6M239.5 976.2v39.6M245.5 976.2v39.6M248.5 976.2v39.6M254.5 976.2v39.6M335.5 976.2v39.6M337.5 976.2v39.6M342.5 976.2v39.6M343.5 976.2v39.6M399.5 976.2v39.6M404.5 976.2v39.6M414.5 976.2v39.6M446.5 976.2v39.6M448.5 976.2v39.6M449.5 976.2v39.6M464.5 976.2v39.6M505.5 976.2v39.6M508.5 976.2v39.6M512.5 976.2v39.6M529.5 976.2v39.6M533.5 976.2v39.6M548.5 976.2v39.6M618.5 976.2v39.6M625.5 976.2v39.6M626.5 976.2v39.6M631.5 976.2v39.6M647.5 976.2v39.6M648.5 976.2v39.6M650.5 976.2v39.6" stroke="#333"/>
<path d="M126.5 976.2v39.6M151.5 976.2v39.6M180.5 976.2v39.6M217.5 976.2v39.6M253.5 976.2v39.6M255.5 976.2v39.6M256.5 976.2v39.6M258.5 976.2v39.6M332.5 976.2v39.6M341.5 976.2v39.6M344.5 976.2v39.6M395.5 976.2v39.6M396.5 976.2v39.6M400.5 976.2v39.6M407.5 976.2v39.6M422.5 976.2v39.6M439.5 976.2v39.6M445.5 976.2v39.6M463.5 976.2v39.6M468.5 976.2v39.6M503.5 976.2v39.6M551.5 976.2v39.6M643.5 976.2v39.6" stroke="#555"/>
<path d="M134.5 976.2v39.6M243.5 976.2v39.6M352.5 976.2v39.6M391.5 976.2v39.6M393.5 976.2v39.6M398.5 976.2v39.6M415.5 976.2v39.6M511.5 976.2v39.6M534.5 976.2v39.6M544.5 976.2v39.6M616.5 976.2v39.6" stroke="#222"/>
<path d="M136.5 976.2v39.6M140.5 976.2v39.6M176.5 976.2v39.6M188.5 976.2v39.6M238.5 976.2v39.6M397.5 976.2v39.6M402.5 976.2v39.6M408.5 976.2v39.6M409.5 976.2v39.6M447.5 976.2v39.6M502.5 976.2v39.6M527.5 976.2v39.6M532.5 976.2v39.6M543.5 976.2v39.6M620.5 976.2v39.6" stroke="#111"/>
<path d="M139.5 976.2v39.6M141.5 976.2v39.6M181.5 976.2v39.6M183.5 976.2v39.6M187.5 976.2v39.6M191.5 976.2v39.6M315.5 976.2v39.6M410.5 976.2v39.6M417.5 976.2v39.6M454.5 976.2v39.6M455.5 976.2v39.6M456.5 976.2v39.6M458.5 976.2v39.6M535.5 976.2v39.6M536.5 976.2v39.6M632.5 976.2v39.6M638.5 976.2v39.6" stroke="#444"/>
<path d="M142.5 976.2v39.6M143.5 976.2v39.6M147.5 976.2v39.6M153.5 976.2v39.6M154.5 976.2v39.6M156.5 976.2v39.6M165.5 976.2v39.6M167.5 976.2v39.6M172.5 976.2v39.6M173.5 976.2v39.6M174.5 976.2v39.6M192.5 976.2v39.6M193.5 976.2v39.6M210.5 976.2v39.6M220.5 976.2v39.6M246.5 976.2v39.6M247.5 976.2v39.6M252.5 976.2v39.6M262.5 976.2v39.6M263.5 976.2v39.6M264.5 976.2v39.6M268.5 976.2v39.6M270.5 976.2v39.6M294.5 976.2v39.6M301.5 976.2v39.6M328.5 976.2v39.6M331.5 976.2v39.6M333.5 976.2v39.6M338.5 976.2v39.6M340.5 976.2v39.6M349.5 976.2v39.6M353.5 976.2v39.6M364.5 976.2v39.6M366.5 976.2v39.6M373.5 976.2v39.6M383.5 976.2v39.6M384.5 976.2v39.6M401.5 976.2v39.6M418.5 976.2v39.6M419.5 976.2v39.6M429.5 976.2v39.6M444.5 976.2v39.6M462.5 976.2v39.6M469.5 976.2v39.6M474.5 976.2v39.6M481.5 976.2v39.6M485.5 976.2v39.6M489.5 976.2v39.6M495.5 976.2v39.6M496.5 976.2v39.6M497.5 976.2v39.6M510.5 976.2v39.6M519.5 976.2v39.6M526.5 976.2v39.6M617.5 976.2v39.6M619.5 976.2v39.6M639.5 976.2v39.6M645.5 976.2v39.6M649.5 976.2v39.6" stroke="#888"/>
<path d="M144.5 976.2v39.6M230.5 976.2v39.6M231.5 976.2v39.6M271.5 976.2v39.6M281.5 976.2v39.6M310.5 976.2v39.6M321.5 976.2v39.6M323.5 976.2v39.6M354.5 976.2v39.6M360.5 976.2v39.6M498.5 976.2v39.6" stroke="#977"/>
<path d="M145.5 976.2v39.6" stroke="#911"/>
<path d="M146.5 976.2v39.6M148.5 976.2v39.6M196.5 976.2v39.6M228.5 976.2v39.6M266.5 976.2v39.6M275.5 976.2v39.6M276.5 976.2v39.6M280.5 976.2v39.6M284.5 976.2v39.6M317.5 976.2v39.6M320.5 976.2v39.6M322.5 976.2v39.6M369.5 976.2v39.6" stroke="#b55"/>
<path d="M149.5 976.2v39.6M171.5 976.2v39.6M199.5 976.2v39.6M200.5 976.2v39.6M201.5 976.2v39.6M202.5 976.2v39.6M205.5 976.2v39.6M214.5 976.2v39.6M222.5 976.2v39.6M223.5 976.2v39.6M224.5 976.2v39.6M225.5 976.2v39.6M292.5 976.2v39.6M306.5 976.2v39.6M308.5 976.2v39.6M313.5 976.2v39.6M318.5 976.2v39.6M319.5 976.2v39.6M325.5 976.2v39.6M326.5 976.2v39.6M347.5 976.2v39.6M356.5 976.2v39.6M377.5 976.2v39.6M380.5 976.2v39.6M386.5 976.2v39.6M387.5 976.2v39.6M389.5 976.2v39.6M491.5 976.2v39.6M556.5 976.2v39.6M557.5 976.2v39.6M558.5 976.2v39.6M560.5 976.2v39.6M561.5 976.2v39.6M562.5 976.2v39.6M563.5 976.2v39.6M564.5 976.2v39.6M567.5 976.2v39.6M568.5 976.2v39.6M569.5 976.2v39.6M571.5 976.2v39.6M572.5 976.2v39.6M574.5 976.2v39.6M575.5 976.2v39.6M576.5 976.2v39.6M577.5 976.2v39.6M578.5 976.2v39.6M579.5 976.2v39.6M580.5 976.2v39.6M581.5 976.2v39.6M582.5 976.2v39.6M583.5 976.2v39.6M584.5 976.2v39.6M585.5 976.2v39.6M587.5 976.2v39.6M588.5 976.2v39.6M589.5 976.2v39.6M590.5 976.2v39.6M591.5 976.2v39.6M593.5 976.2v39.6M595.5 976.2v39.6M596.5 976.2v39.6M597.5 976.2v39.6M598.5 976.2v39.6M601.5 976.2v39.6M602.5 976.2v39.6M605.5 976.2v39.6M606.5 976.2v39.6M607.5 976.2v39.6M608.5 976.2v39.6M609.5 976.2v39.6M612.5 976.2v39.6M613.5 976.2v39.6M614.5 976.2v39.6" stroke="#d22"/>
<path d="M150.5 976.2v39.6M229.5 976.2v39.6M273.5 976.2v39.6M278.5 976.2v39.6M370.5 976.2v39.6M490.5 976.2v39.6M499.5 976.2v39.6" stroke="#d33"/>
<path d="M155.5 976.2v39.6M160.5 976.2v39.6M164.5 976.2v39.6M168.5 976.2v39.6M169.5 976.2v39.6M195.5 976.2v39.6M198.5 976.2v39.6M204.5 976.2v39.6M208.5 976.2v39.6M211.5 976.2v39.6M213.5 976.2v39.6M259.5 976.2v39.6M261.5 976.2v39.6M265.5 976.2v39.6M269.5 976.2v39.6M274.5 976.2v39.6M286.5 976.2v39.6M295.5 976.2v39.6M296.5 976.2v39.6M297.5 976.2v39.6M309.5 976.2v39.6M382.5 976.2v39.6M420.5 976.2v39.6M427.5 976.2v39.6M465.5 976.2v39.6M467.5 976.2v39.6M473.5 976.2v39.6M476.5 976.2v39.6M479.5 976.2v39.6M480.5 976.2v39.6M484.5 976.2v39.6M488.5 976.2v39.6M500.5 976.2v39.6M603.5 976.2v39.6" stroke="#a66"/>
<path d="M157.5 976.2v39.6M158.5 976.2v39.6M159.5 976.2v39.6M282.5 976.2v39.6M459.5 976.2v39.6M471.5 976.2v39.6M542.5 976.2v39.6" stroke="#866"/>
<path d="M161.5 976.2v39.6M324.5 976.2v39.6M472.5 976.2v39.6" stroke="#a44"/>
<path d="M162.5 976.2v39.6M634.5 976.2v39.6M635.5 976.2v39.6" stroke="#4bc"/>
<path d="M163.5 976.2v39.6M166.5 976.2v39.6M170.5 976.2v39.6M197.5 976.2v39.6M212.5 976.2v39.6M215.5 976.2v39.6M226.5 976.2v39.6M260.5 976.2v39.6M288.5 976.2v39.6M290.5 976.2v39.6M293.5 976.2v39.6M298.5 976.2v39.6M300.5 976.2v39.6M302.5 976.2v39.6M355.5 976.2v39.6M357.5 976.2v39.6M361.5 976.2v39.6M365.5 976.2v39.6M379.5 976.2v39.6M381.5 976.2v39.6M385.5 976.2v39.6M423.5 976.2v39.6M428.5 976.2v39.6M430.5 976.2v39.6M433.5 976.2v39.6M470.5 976.2v39.6M475.5 976.2v39.6M483.5 976.2v39.6M493.5 976.2v39.6M494.5 976.2v39.6M555.5 976.2v39.6M604.5 976.2v39.6" stroke="#c44"/>
<path d="M182.5 976.2v39.6M235.5 976.2v39.6M406.5 976.2v39.6M413.5 976.2v39.6M453.5 976.2v39.6M531.5 976.2v39.6" stroke="#777"/>
<path d="M194.5 976.2v39.6" stroke="#978"/>
<path d="M203.5 976.2v39.6M218.5 976.2v39.6M336.5 976.2v39.6M350.5 976.2v39.6M482.5 976.2v39.6" stroke="#a67"/>
<path d="M206.5 976.2v39.6M299.5 976.2v39.6M348.5 976.2v39.6M378.5 976.2v39.6M432.5 976.2v39.6M478.5 976.2v39.6M559.5 976.2v39.6M565.5 976.2v39.6M566.5 976.2v39.6M570.5 976.2v39.6M573.5 976.2v39.6M586.5 976.2v39.6M592.5 976.2v39.6M594.5 976.2v39.6M600.5 976.2v39.6M611.5 976.2v39.6" stroke="#c22"/>
<path d="M207.5 976.2v39.6M242.5 976.2v39.6M250.5 976.2v39.6M438.5 976.2v39.6" stroke="#844"/>
<path d="M219.5 976.2v39.6" stroke="#a34"/>
<path d="M221.5 976.2v39.6M312.5 976.2v39.6M327.5 976.2v39.6M372.5 976.2v39.6M486.5 976.2v39.6" stroke="#d23"/>
<path d="M227.5 976.2v39.6M251.5 976.2v39.6M424.5 976.2v39.6M436.5 976.2v39.6M477.5 976.2v39.6M524.5 976.2v39.6" stroke="#411"/>
<path d="M232.5 976.2v39.6M546.5 976.2v39.6" stroke="#877"/>
<path d="M233.5 976.2v39.6" stroke="#2aa"/>
<path d="M234.5 976.2v39.6" stroke="#299"/>
<path d="M236.5 976.2v39.6M437.5 976.2v39.6M443.5 976.2v39.6" stroke="#633"/>
<path d="M240.5 976.2v39.6" stroke="#523"/>
<path d="M241.5 976.2v39.6M541.5 976.2v39.6M547.5 976.2v39.6" stroke="#200"/>
<path d="M267.5 976.2v39.6M374.5 976.2v39.6" stroke="#a56"/>
<path d="M272.5 976.2v39.6M367.5 976.2v39.6M492.5 976.2v39.6" stroke="#c33"/>
<path d="M277.5 976.2v39.6M388.5 976.2v39.6M520.5 976.2v39.6M554.5 976.2v39.6M640.5 976.2v39.6" stroke="#733"/>
<path d="M279.5 976.2v39.6M314.5 976.2v39.6" stroke="#655"/>
<path d="M283.5 976.2v39.6M351.5 976.2v39.6M622.5 976.2v39.6" stroke="#433"/>
<path d="M285.5 976.2v39.6M501.5 976.2v39.6" stroke="#955"/>
<path d="M287.5 976.2v39.6M375.5 976.2v39.6M421.5 976.2v39.6M466.5 976.2v39.6" stroke="#b45"/>
<path d="M289.5 976.2v39.6M460.5 976.2v39.6" stroke="#833"/>
<path d="M291.5 976.2v39.6M450.5 976.2v39.6M451.5 976.2v39.6" stroke="#711"/>
<path d="M303.5 976.2v39.6" stroke="#b44"/>
<path d="M304.5 976.2v39.6" stroke="#834"/>
<path d="M305.5 976.2v39.6" stroke="#401"/>
<path d="M307.5 976.2v39.6" stroke="#944"/>
<path d="M311.5 976.2v39.6" stroke="#c34"/>
<path d="M316.5 976.2v39.6" stroke="#b33"/>
<path d="M329.5 976.2v39.6M358.5 976.2v39.6" stroke="#811"/>
<path d="M330.5 976.2v39.6M434.5 976.2v39.6M461.5 976.2v39.6" stroke="#744"/>
<path d="M359.5 976.2v39.6" stroke="#a55"/>
<path d="M362.5 976.2v39.6" stroke="#611"/>
<path d="M363.5 976.2v39.6" stroke="#a33"/>
<path d="M368.5 976.2v39.6" stroke="#644"/>
<path d="M371.5 976.2v39.6M376.5 976.2v39.6M487.5 976.2v39.6" stroke="#988"/>
<path d="M390.5 976.2v39.6M441.5 976.2v39.6" stroke="#912"/>
<path d="M426.5 976.2v39.6M452.5 976.2v39.6M517.5 976.2v39.6" stroke="#511"/>
<path d="M440.5 976.2v39.6" stroke="#a77"/>
<path d="M457.5 976.2v39.6" stroke="#301"/>
<path d="M513.5 976.2v39.6" stroke="#966"/>
<path d="M525.5 976.2v39.6M599.5 976.2v39.6M610.5 976.2v39.6" stroke="#a12"/>
<path d="M537.5 976.2v39.6M545.5 976.2v39.6" stroke="#622"/>
<path d="M553.5 976.2v39.6M615.5 976.2v39.6" stroke="#100"/>
<path d="M621.5 976.2v39.6" stroke="#300"/>
<path d="M633.5 976.2v39.6" stroke="#233"/>
<path d="M636.5 976.2v39.6" stroke="#3ab"/>
<path d="M122.5 1015.8v39.9M123.5 1015.8v39.9M126.5 1015.8v39.9M127.5 1015.8v39.9M128.5 1015.8v39.9M129.5 1015.8v39.9M130.5 1015.8v39.9M131.5 1015.8v39.9M132.5 1015.8v39.9M133.5 1015.8v39.9M134.5 1015.8v39.9M135.5 1015.8v39.9M136.5 1015.8v39.9M137.5 1015.8v39.9M138.5 1015.8v39.9M139.5 1015.8v39.9M144.5 1015.8v39.9M145.5 1015.8v39.9M381.5 1015.8v39.9M388.5 1015.8v39.9M390.5 1015.8v39.9M391.5 1015.8v39.9M392.5 1015.8v39.9M393.5 1015.8v39.9M394.5 1015.8v39.9M397.5 1015.8v39.9M398.5 1015.8v39.9M399.5 1015.8v39.9M400.5 1015.8v39.9M401.5 1015.8v39.9M402.5 1015.8v39.9M403.5 1015.8v39.9M404.5 1015.8v39.9M405.5 1015.8v39.9M406.5 1015.8v39.9M407.5 1015.8v39.9M408.5 1015.8v39.9M409.5 1015.8v39.9M410.5 1015.8v39.9M412.5 1015.8v39.9M413.5 1015.8v39.9M414.5 1015.8v39.9M415.5 1015.8v39.9M416.5 1015.8v39.9M417.5 1015.8v39.9M418.5 1015.8v39.9M419.5 1015.8v39.9M420.5 1015.8v39.9M421.5 1015.8v39.9M422.5 1015.8v39.9M423.5 1015.8v39.9M424.5 1015.8v39.9M425.5 1015.8v39.9M426.5 1015.8v39.9M427.5 1015.8v39.9M428.5 1015.8v39.9M429.5 1015.8v39.9M430.5 1015.8v39.9M432.5 1015.8v39.9M433.5 1015.8v39.9M434.5 1015.8v39.9M435.5 1015.8v39.9M436.5 1015.8v39.9M437.5 1015.8v39.9M438.5 1015.8v39.9M439.5 1015.8v39.9M440.5 1015.8v39.9M442.5 1015.8v39.9M443.5 1015.8v39.9M444.5 1015.8v39.9M445.5 1015.8v39.9M448.5 1015.8v39.9M449.5 1015.8v39.9M450.5 1015.8v39.9M451.5 1015.8v39.9M452.5 1015.8v39.9M453.5 1015.8v39.9M498.5 1015.8v39.9M499.5 1015.8v39.9M500.5 1015.8v39.9M503.5 1015.8v39.9M507.5 1015.8v39.9M508.5 1015.8v39.9M509.5 1015.8v39.9M510.5 1015.8v39.9M511.5 1015.8v39.9M512.5 1015.8v39.9M513.5 1015.8v39.9M514.5 1015.8v39.9M515.5 1015.8v39.9M516.5 1015.8v39.9M517.5 1015.8v39.9M518.5 1015.8v39.9M519.5 1015.8v39.9M520.5 1015.8v39.9M522.5 1015.8v39.9M524.5 1015.8v39.9M525.5 1015.8v39.9M526.5 1015.8v39.9M527.5 1015.8v39.9M543.5 1015.8v39.9M544.5 1015.8v39.9M545.5 1015.8v39.9M548.5 1015.8v39.9M549.5 1015.8v39.9M553.5 1015.8v39.9M554.5 1015.8v39.9M555.5 1015.8v39.9M557.5 1015.8v39.9M577.5 1015.8v39.9M578.5 1015.8v39.9M579.5 1015.8v39.9M580.5 1015.8v39.9M581.5 1015.8v39.9M583.5 1015.8v39.9M584.5 1015.8v39.9M585.5 1015.8v39.9M586.5 1015.8v39.9M588.5 1015.8v39.9M589.5 1015.8v39.9M592.5 1015.8v39.9M593.5 1015.8v39.9M594.5 1015.8v39.9M595.5 1015.8v39.9M596.5 1015.8v39.9M597.5 1015.8v39.9M598.5 1015.8v39.9M600.5 1015.8v39.9M601.5 1015.8v39.9M602.5 1015.8v39.9M603.5 1015.8v39.9M606.5 1015.8v39.9M607.5 1015.8v39.9M608.5 1015.8v39.9M609.5 1015.8v39.9M610.5 1015.8v39.9M611.5 1015.8v39.9M612.5 1015.8v39.9M613.5 1015.8v39.9M614.5 1015.8v39.9M616.5 1015.8v39.9M617.5 1015.8v39.9M618.5 1015.8v39.9M619.5 1015.8v39.9M620.5 1015.8v39.9M621.5 1015.8v39.9M622.5 1015.8v39.9M623.5 1015.8v39.9M630.5 1015.8v39.9M631.5 1015.8v39.9M635.5 1015.8v39.9M644.5 1015.8v39.9M648.5 1015.8v39.9M649.5 1015.8v39.9" stroke="#000"/>
<path d="M124.5 1015.8v39.9M142.5 1015.8v39.9M149.5 1015.8v39.9M158.5 1015.8v39.9M258.5 1015.8v39.9M297.5 1015.8v39.9M337.5 1015.8v39.9M376.5 1015.8v39.9M469.5 1015.8v39.9M480.5 1015.8v39.9M483.5 1015.8v39.9M486.5 1015.8v39.9M493.5 1015.8v39.9M495.5 1015.8v39.9M496.5 1015.8v39.9M528.5 1015.8v39.9M530.5 1015.8v39.9M533.5 1015.8v39.9M534.5 1015.8v39.9M552.5 1015.8v39.9M565.5 1015.8v39.9M568.5 1015.8v39.9M574.5 1015.8v39.9M640.5 1015.8v39.9" stroke="#888"/>
<path d="M125.5 1015.8v39.9M146.5 1015.8v39.9M147.5 1015.8v39.9M372.5 1015.8v39.9M377.5 1015.8v39.9M389.5 1015.8v39.9M441.5 1015.8v39.9M487.5 1015.8v39.9M488.5 1015.8v39.9M502.5 1015.8v39.9M504.5 1015.8v39.9M542.5 1015.8v39.9M550.5 1015.8v39.9M559.5 1015.8v39.9M570.5 1015.8v39.9M587.5 1015.8v39.9M638.5 1015.8v39.9M639.5 1015.8v39.9" stroke="#666"/>
<path d="M140.5 1015.8v39.9M374.5 1015.8v39.9M379.5 1015.8v39.9M383.5 1015.8v39.9M384.5 1015.8v39.9M386.5 1015.8v39.9M387.5 1015.8v39.9M411.5 1015.8v39.9M446.5 1015.8v39.9M447.5 1015.8v39.9M484.5 1015.8v39.9M490.5 1015.8v39.9M494.5 1015.8v39.9M501.5 1015.8v39.9M521.5 1015.8v39.9M541.5 1015.8v39.9M546.5 1015.8v39.9M576.5 1015.8v39.9M582.5 1015.8v39.9M604.5 1015.8v39.9M605.5 1015.8v39.9M615.5 1015.8v39.9M633.5 1015.8v39.9M645.5 1015.8v39.9" stroke="#333"/>
<path d="M141.5 1015.8v39.9M378.5 1015.8v39.9M395.5 1015.8v39.9M506.5 1015.8v39.9M523.5 1015.8v39.9M556.5 1015.8v39.9M591.5 1015.8v39.9M643.5 1015.8v39.9" stroke="#222"/>
<path d="M143.5 1015.8v39.9M396.5 1015.8v39.9M491.5 1015.8v39.9M505.5 1015.8v39.9M529.5 1015.8v39.9M539.5 1015.8v39.9M540.5 1015.8v39.9M575.5 1015.8v39.9M590.5 1015.8v39.9M632.5 1015.8v39.9M642.5 1015.8v39.9" stroke="#111"/>
<path d="M148.5 1015.8v39.9M153.5 1015.8v39.9M492.5 1015.8v39.9M497.5 1015.8v39.9M531.5 1015.8v39.9M538.5 1015.8v39.9M636.5 1015.8v39.9" stroke="#444"/>
<path d="M150.5 1015.8v39.9M152.5 1015.8v39.9M154.5 1015.8v39.9M373.5 1015.8v39.9M375.5 1015.8v39.9M380.5 1015.8v39.9M382.5 1015.8v39.9M431.5 1015.8v39.9M485.5 1015.8v39.9M489.5 1015.8v39.9M532.5 1015.8v39.9M551.5 1015.8v39.9M558.5 1015.8v39.9M569.5 1015.8v39.9M599.5 1015.8v39.9M637.5 1015.8v39.9M641.5 1015.8v39.9M650.5 1015.8v39.9" stroke="#555"/>
<path d="M151.5 1015.8v39.9M312.5 1015.8v39.9M457.5 1015.8v39.9" stroke="#866"/>
<path d="M155.5 1015.8v39.9M317.5 1015.8v39.9" stroke="#611"/>
<path d="M156.5 1015.8v39.9M230.5 1015.8v39.9M251.5 1015.8v39.9M253.5 1015.8v39.9M270.5 1015.8v39.9M292.5 1015.8v39.9M298.5 1015.8v39.9M300.5 1015.8v39.9M310.5 1015.8v39.9M316.5 1015.8v39.9M321.5 1015.8v39.9M322.5 1015.8v39.9M331.5 1015.8v39.9M339.5 1015.8v39.9M340.5 1015.8v39.9M346.5 1015.8v39.9M349.5 1015.8v39.9M350.5 1015.8v39.9M351.5 1015.8v39.9M353.5 1015.8v39.9M362.5 1015.8v39.9M466.5 1015.8v39.9M468.5 1015.8v39.9M478.5 1015.8v39.9M561.5 1015.8v39.9M564.5 1015.8v39.9M572.5 1015.8v39.9" stroke="#c44"/>
<path d="M157.5 1015.8v39.9M250.5 1015.8v39.9M535.5 1015.8v39.9" stroke="#744"/>
<path d="M159.5 1015.8v39.9M160.5 1015.8v39.9M248.5 1015.8v39.9M257.5 1015.8v39.9M279.5 1015.8v39.9M281.5 1015.8v39.9M314.5 1015.8v39.9M315.5 1015.8v39.9M335.5 1015.8v39.9M343.5 1015.8v39.9M344.5 1015.8v39.9M456.5 1015.8v39.9M462.5 1015.8v39.9M471.5 1015.8v39.9M472.5 1015.8v39.9M473.5 1015.8v39.9M476.5 1015.8v39.9M477.5 1015.8v39.9M479.5 1015.8v39.9M560.5 1015.8v39.9M562.5 1015.8v39.9M567.5 1015.8v39.9" stroke="#a66"/>
<path d="M161.5 1015.8v39.9M291.5 1015.8v39.9M467.5 1015.8v39.9M481.5 1015.8v39.9" stroke="#a67"/>
<path d="M162.5 1015.8v39.9M163.5 1015.8v39.9M628.5 1015.8v39.9" stroke="#4bc"/>
<path d="M164.5 1015.8v39.9" stroke="#3ab"/>
<path d="M165.5 1015.8v39.9M166.5 1015.8v39.9M189.5 1015.8v39.9M202.5 1015.8v39.9M209.5 1015.8v39.9M221.5 1015.8v39.9M227.5 1015.8v39.9M234.5 1015.8v39.9M266.5 1015.8v39.9M276.5 1015.8v39.9M301.5 1015.8v39.9M341.5 1015.8v39.9M354.5 1015.8v39.9" stroke="#c22"/>
<path d="M167.5 1015.8v39.9M168.5 1015.8v39.9M169.5 1015.8v39.9M170.5 1015.8v39.9M171.5 1015.8v39.9M174.5 1015.8v39.9M175.5 1015.8v39.9M176.5 1015.8v39.9M177.5 1015.8v39.9M178.5 1015.8v39.9M179.5 1015.8v39.9M180.5 1015.8v39.9M181.5 1015.8v39.9M182.5 1015.8v39.9M183.5 1015.8v39.9M184.5 1015.8v39.9M185.5 1015.8v39.9M186.5 1015.8v39.9M187.5 1015.8v39.9M188.5 1015.8v39.9M190.5 1015.8v39.9M191.5 1015.8v39.9M192.5 1015.8v39.9M193.5 1015.8v39.9M194.5 1015.8v39.9M195.5 1015.8v39.9M196.5 1015.8v39.9M197.5 1015.8v39.9M198.5 1015.8v39.9M199.5 1015.8v39.9M200.5 1015.8v39.9M203.5 1015.8v39.9M204.5 1015.8v39.9M205.5 1015.8v39.9M206.5 1015.8v39.9M207.5 1015.8v39.9M208.5 1015.8v39.9M210.5 1015.8v39.9M211.5 1015.8v39.9M212.5 1015.8v39.9M213.5 1015.8v39.9M214.5 1015.8v39.9M215.5 1015.8v39.9M216.5 1015.8v39.9M217.5 1015.8v39.9M219.5 1015.8v39.9M220.5 1015.8v39.9M222.5 1015.8v39.9M223.5 1015.8v39.9M224.5 1015.8v39.9M225.5 1015.8v39.9M226.5 1015.8v39.9M228.5 1015.8v39.9M229.5 1015.8v39.9M231.5 1015.8v39.9M232.5 1015.8v39.9M233.5 1015.8v39.9M235.5 1015.8v39.9M236.5 1015.8v39.9M239.5 1015.8v39.9M242.5 1015.8v39.9M246.5 1015.8v39.9M247.5 1015.8v39.9M249.5 1015.8v39.9M252.5 1015.8v39.9M254.5 1015.8v39.9M259.5 1015.8v39.9M260.5 1015.8v39.9M262.5 1015.8v39.9M269.5 1015.8v39.9M275.5 1015.8v39.9M277.5 1015.8v39.9M278.5 1015.8v39.9M285.5 1015.8v39.9M286.5 1015.8v39.9M287.5 1015.8v39.9M288.5 1015.8v39.9M289.5 1015.8v39.9M293.5 1015.8v39.9M294.5 1015.8v39.9M296.5 1015.8v39.9M304.5 1015.8v39.9M308.5 1015.8v39.9M319.5 1015.8v39.9M325.5 1015.8v39.9M326.5 1015.8v39.9M327.5 1015.8v39.9M336.5 1015.8v39.9M342.5 1015.8v39.9M348.5 1015.8v39.9M355.5 1015.8v39.9M358.5 1015.8v39.9M359.5 1015.8v39.9M360.5 1015.8v39.9M361.5 1015.8v39.9M365.5 1015.8v39.9M366.5 1015.8v39.9M368.5 1015.8v39.9M369.5 1015.8v39.9M464.5 1015.8v39.9M563.5 1015.8v39.9M566.5 1015.8v39.9" stroke="#d22"/>
<path d="M172.5 1015.8v39.9M345.5 1015.8v39.9" stroke="#812"/>
<path d="M173.5 1015.8v39.9M318.5 1015.8v39.9" stroke="#b22"/>
<path d="M201.5 1015.8v39.9M218.5 1015.8v39.9M338.5 1015.8v39.9" stroke="#a12"/>
<path d="M237.5 1015.8v39.9" stroke="#300"/>
<path d="M238.5 1015.8v39.9" stroke="#b12"/>
<path d="M240.5 1015.8v39.9M244.5 1015.8v39.9M268.5 1015.8v39.9M283.5 1015.8v39.9M307.5 1015.8v39.9M313.5 1015.8v39.9M328.5 1015.8v39.9M334.5 1015.8v39.9M465.5 1015.8v39.9" stroke="#d23"/>
<path d="M241.5 1015.8v39.9M329.5 1015.8v39.9M333.5 1015.8v39.9M356.5 1015.8v39.9M460.5 1015.8v39.9" stroke="#c34"/>
<path d="M243.5 1015.8v39.9M646.5 1015.8v39.9" stroke="#411"/>
<path d="M245.5 1015.8v39.9" stroke="#a34"/>
<path d="M255.5 1015.8v39.9M347.5 1015.8v39.9" stroke="#511"/>
<path d="M256.5 1015.8v39.9M295.5 1015.8v39.9M299.5 1015.8v39.9M320.5 1015.8v39.9M367.5 1015.8v39.9M647.5 1015.8v39.9" stroke="#911"/>
<path d="M261.5 1015.8v39.9M273.5 1015.8v39.9M305.5 1015.8v39.9M470.5 1015.8v39.9M474.5 1015.8v39.9" stroke="#733"/>
<path d="M263.5 1015.8v39.9M302.5 1015.8v39.9" stroke="#834"/>
<path d="M264.5 1015.8v39.9M265.5 1015.8v39.9" stroke="#811"/>
<path d="M267.5 1015.8v39.9M463.5 1015.8v39.9" stroke="#655"/>
<path d="M271.5 1015.8v39.9M303.5 1015.8v39.9" stroke="#b44"/>
<path d="M272.5 1015.8v39.9" stroke="#833"/>
<path d="M274.5 1015.8v39.9M324.5 1015.8v39.9M461.5 1015.8v39.9" stroke="#b55"/>
<path d="M280.5 1015.8v39.9" stroke="#644"/>
<path d="M282.5 1015.8v39.9" stroke="#b56"/>
<path d="M284.5 1015.8v39.9" stroke="#a33"/>
<path d="M290.5 1015.8v39.9M309.5 1015.8v39.9M385.5 1015.8v39.9" stroke="#a44"/>
<path d="M306.5 1015.8v39.9M370.5 1015.8v39.9" stroke="#633"/>
<path d="M311.5 1015.8v39.9" stroke="#a56"/>
<path d="M323.5 1015.8v39.9M357.5 1015.8v39.9M363.5 1015.8v39.9M364.5 1015.8v39.9M459.5 1015.8v39.9" stroke="#977"/>
<path d="M330.5 1015.8v39.9M571.5 1015.8v39.9" stroke="#966"/>
<path d="M332.5 1015.8v39.9" stroke="#b45"/>
<path d="M352.5 1015.8v39.9" stroke="#a77"/>
<path d="M371.5 1015.8v39.9M475.5 1015.8v39.9M547.5 1015.8v39.9" stroke="#734"/>
<path d="M454.5 1015.8v39.9" stroke="#200"/>
<path d="M455.5 1015.8v39.9" stroke="#d33"/>
<path d="M458.5 1015.8v39.9" stroke="#978"/>
<path d="M482.5 1015.8v39.9" stroke="#100"/>
<path d="M536.5 1015.8v39.9" stroke="#766"/>
<path d="M537.5 1015.8v39.9M634.5 1015.8v39.9" stroke="#777"/>
<path d="M573.5 1015.8v39.9" stroke="#988"/>
<path d="M624.5 1015.8v39.9" stroke="#3aa"/>
<path d="M625.5 1015.8v39.9" stroke="#299"/>
<path d="M626.5 1015.8v39.9M627.5 1015.8v39.9" stroke="#3bb"/>
<path d="M629.5 1015.8v39.9" stroke="#289"/>
<path d="M122.5 1055.7v40M123.5 1055.7v40M124.5 1055.7v40M125.5 1055.7v40M126.5 1055.7v40M127.5 1055.7v40M128.5 1055.7v40M129.5 1055.7v40M130.5 1055.7v40M131.5 1055.7v40M132.5 1055.7v40M133.5 1055.7v40M138.5 1055.7v40M141.5 1055.7v40M142.5 1055.7v40M143.5 1055.7v40M144.5 1055.7v40M146.5 1055.7v40M147.5 1055.7v40M148.5 1055.7v40M149.5 1055.7v40M150.5 1055.7v40M151.5 1055.7v40M152.5 1055.7v40M153.5 1055.7v40M154.5 1055.7v40M155.5 1055.7v40M157.5 1055.7v40M158.5 1055.7v40M159.5 1055.7v40M160.5 1055.7v40M163.5 1055.7v40M164.5 1055.7v40M165.5 1055.7v40M166.5 1055.7v40M167.5 1055.7v40M168.5 1055.7v40M172.5 1055.7v40M174.5 1055.7v40M176.5 1055.7v40M177.5 1055.7v40M178.5 1055.7v40M179.5 1055.7v40M180.5 1055.7v40M181.5 1055.7v40M184.5 1055.7v40M185.5 1055.7v40M186.5 1055.7v40M187.5 1055.7v40M188.5 1055.7v40M189.5 1055.7v40M190.5 1055.7v40M192.5 1055.7v40M193.5 1055.7v40M194.5 1055.7v40M195.5 1055.7v40M196.5 1055.7v40M197.5 1055.7v40M198.5 1055.7v40M199.5 1055.7v40M200.5 1055.7v40M201.5 1055.7v40M202.5 1055.7v40M203.5 1055.7v40M204.5 1055.7v40M205.5 1055.7v40M206.5 1055.7v40M207.5 1055.7v40M208.5 1055.7v40M209.5 1055.7v40M210.5 1055.7v40M211.5 1055.7v40M212.5 1055.7v40M213.5 1055.7v40M214.5 1055.7v40M215.5 1055.7v40M217.5 1055.7v40M218.5 1055.7v40M219.5 1055.7v40M220.5 1055.7v40M221.5 1055.7v40M222.5 1055.7v40M223.5 1055.7v40M224.5 1055.7v40M225.5 1055.7v40M226.5 1055.7v40M227.5 1055.7v40M228.5 1055.7v40M229.5 1055.7v40M231.5 1055.7v40M325.5 1055.7v40M456.5 1055.7v40M457.5 1055.7v40M458.5 1055.7v40M459.5 1055.7v40M460.5 1055.7v40M461.5 1055.7v40M462.5 1055.7v40M463.5 1055.7v40M464.5 1055.7v40M465.5 1055.7v40M466.5 1055.7v40M467.5 1055.7v40M468.5 1055.7v40M469.5 1055.7v40M470.5 1055.7v40M472.5 1055.7v40M475.5 1055.7v40M476.5 1055.7v40M477.5 1055.7v40M478.5 1055.7v40M479.5 1055.7v40M480.5 1055.7v40M481.5 1055.7v40M482.5 1055.7v40M483.5 1055.7v40M486.5 1055.7v40M487.5 1055.7v40M488.5 1055.7v40M489.5 1055.7v40M490.5 1055.7v40M491.5 1055.7v40M492.5 1055.7v40M493.5 1055.7v40M494.5 1055.7v40M495.5 1055.7v40M496.5 1055.7v40M499.5 1055.7v40M500.5 1055.7v40M501.5 1055.7v40M502.5 1055.7v40M503.5 1055.7v40M504.5 1055.7v40M506.5 1055.7v40M509.5 1055.7v40M510.5 1055.7v40M511.5 1055.7v40M513.5 1055.7v40M514.5 1055.7v40M515.5 1055.7v40M516.5 1055.7v40M517.5 1055.7v40M518.5 1055.7v40M519.5 1055.7v40M520.5 1055.7v40M521.5 1055.7v40M522.5 1055.7v40M523.5 1055.7v40M524.5 1055.7v40M525.5 1055.7v40M526.5 1055.7v40M527.5 1055.7v40M528.5 1055.7v40M529.5 1055.7v40M530.5 1055.7v40M531.5 1055.7v40M532.5 1055.7v40M533.5 1055.7v40M537.5 1055.7v40M538.5 1055.7v40M539.5 1055.7v40M540.5 1055.7v40M560.5 1055.7v40M561.5 1055.7v40M562.5 1055.7v40M563.5 1055.7v40M564.5 1055.7v40M565.5 1055.7v40M566.5 1055.7v40M567.5 1055.7v40M569.5 1055.7v40M571.5 1055.7v40M572.5 1055.7v40M573.5 1055.7v40M574.5 1055.7v40M575.5 1055.7v40M577.5 1055.7v40M579.5 1055.7v40M580.5 1055.7v40M581.5 1055.7v40M582.5 1055.7v40M583.5 1055.7v40M586.5 1055.7v40M587.5 1055.7v40M588.5 1055.7v40M589.5 1055.7v40M590.5 1055.7v40M591.5 1055.7v40M592.5 1055.7v40M593.5 1055.7v40M594.5 1055.7v40M595.5 1055.7v40M596.5 1055.7v40M597.5 1055.7v40M598.5 1055.7v40M601.5 1055.7v40M602.5 1055.7v40M603.5 1055.7v40M604.5 1055.7v40M605.5 1055.7v40M606.5 1055.7v40M607.5 1055.7v40M608.5 1055.7v40M609.5 1055.7v40M610.5 1055.7v40M611.5 1055.7v40M612.5 1055.7v40M629.5 1055.7v40M630.5 1055.7v40M631.5 1055.7v40M632.5 1055.7v40M633.5 1055.7v40M638.5 1055.7v40M639.5 1055.7v40M642.5 1055.7v40M643.5 1055.7v40M644.5 1055.7v40M645.5 1055.7v40M646.5 1055.7v40M647.5 1055.7v40M648.5 1055.7v40M649.5 1055.7v40M650.5 1055.7v40" stroke="#000"/>
<path d="M134.5 1055.7v40" stroke="#777"/>
<path d="M135.5 1055.7v40M497.5 1055.7v40" stroke="#444"/>
<path d="M136.5 1055.7v40M139.5 1055.7v40M170.5 1055.7v40M182.5 1055.7v40M484.5 1055.7v40M508.5 1055.7v40M512.5 1055.7v40M534.5 1055.7v40M613.5 1055.7v40M641.5 1055.7v40" stroke="#222"/>
<path d="M137.5 1055.7v40M140.5 1055.7v40M183.5 1055.7v40M485.5 1055.7v40M498.5 1055.7v40M507.5 1055.7v40M536.5 1055.7v40M584.5 1055.7v40M585.5 1055.7v40M627.5 1055.7v40M628.5 1055.7v40" stroke="#111"/>
<path d="M145.5 1055.7v40M169.5 1055.7v40M175.5 1055.7v40M505.5 1055.7v40M568.5 1055.7v40M576.5 1055.7v40M640.5 1055.7v40" stroke="#666"/>
<path d="M156.5 1055.7v40M171.5 1055.7v40M173.5 1055.7v40M191.5 1055.7v40M216.5 1055.7v40M230.5 1055.7v40M471.5 1055.7v40M473.5 1055.7v40M474.5 1055.7v40M570.5 1055.7v40M578.5 1055.7v40M599.5 1055.7v40M614.5 1055.7v40M634.5 1055.7v40" stroke="#333"/>
<path d="M161.5 1055.7v40M616.5 1055.7v40M617.5 1055.7v40M619.5 1055.7v40" stroke="#3ab"/>
<path d="M162.5 1055.7v40" stroke="#3aa"/>
<path d="M232.5 1055.7v40M326.5 1055.7v40" stroke="#b12"/>
<path d="M233.5 1055.7v40M238.5 1055.7v40M244.5 1055.7v40M245.5 1055.7v40M246.5 1055.7v40M250.5 1055.7v40M253.5 1055.7v40M254.5 1055.7v40M256.5 1055.7v40M257.5 1055.7v40M260.5 1055.7v40M276.5 1055.7v40M280.5 1055.7v40M281.5 1055.7v40M284.5 1055.7v40M290.5 1055.7v40M291.5 1055.7v40M298.5 1055.7v40M299.5 1055.7v40M307.5 1055.7v40M312.5 1055.7v40M314.5 1055.7v40M315.5 1055.7v40M316.5 1055.7v40M322.5 1055.7v40M323.5 1055.7v40M328.5 1055.7v40M330.5 1055.7v40M331.5 1055.7v40M332.5 1055.7v40M333.5 1055.7v40M335.5 1055.7v40M342.5 1055.7v40M343.5 1055.7v40M344.5 1055.7v40M345.5 1055.7v40M347.5 1055.7v40M352.5 1055.7v40M356.5 1055.7v40M357.5 1055.7v40M358.5 1055.7v40M360.5 1055.7v40M364.5 1055.7v40M370.5 1055.7v40M372.5 1055.7v40M373.5 1055.7v40M378.5 1055.7v40M379.5 1055.7v40M382.5 1055.7v40M384.5 1055.7v40M385.5 1055.7v40M386.5 1055.7v40M387.5 1055.7v40M388.5 1055.7v40M390.5 1055.7v40M392.5 1055.7v40M393.5 1055.7v40M394.5 1055.7v40M395.5 1055.7v40M396.5 1055.7v40M397.5 1055.7v40M398.5 1055.7v40M399.5 1055.7v40M400.5 1055.7v40M401.5 1055.7v40M402.5 1055.7v40M404.5 1055.7v40M406.5 1055.7v40M407.5 1055.7v40M408.5 1055.7v40M410.5 1055.7v40M411.5 1055.7v40M412.5 1055.7v40M414.5 1055.7v40M416.5 1055.7v40M420.5 1055.7v40M423.5 1055.7v40M424.5 1055.7v40M425.5 1055.7v40M426.5 1055.7v40M428.5 1055.7v40M429.5 1055.7v40M430.5 1055.7v40M431.5 1055.7v40M433.5 1055.7v40M434.5 1055.7v40M435.5 1055.7v40M437.5 1055.7v40M438.5 1055.7v40M439.5 1055.7v40M440.5 1055.7v40M441.5 1055.7v40M442.5 1055.7v40M443.5 1055.7v40M444.5 1055.7v40M445.5 1055.7v40M447.5 1055.7v40M450.5 1055.7v40M451.5 1055.7v40M452.5 1055.7v40M557.5 1055.7v40" stroke="#d22"/>
<path d="M234.5 1055.7v40M273.5 1055.7v40M367.5 1055.7v40M380.5 1055.7v40" stroke="#b22"/>
<path d="M235.5 1055.7v40M236.5 1055.7v40" stroke="#622"/>
<path d="M237.5 1055.7v40M541.5 1055.7v40M635.5 1055.7v40" stroke="#200"/>
<path d="M239.5 1055.7v40M295.5 1055.7v40M359.5 1055.7v40" stroke="#a44"/>
<path d="M240.5 1055.7v40M289.5 1055.7v40M318.5 1055.7v40M324.5 1055.7v40M365.5 1055.7v40M409.5 1055.7v40M432.5 1055.7v40M436.5 1055.7v40M455.5 1055.7v40" stroke="#a12"/>
<path d="M241.5 1055.7v40M255.5 1055.7v40M261.5 1055.7v40M267.5 1055.7v40M268.5 1055.7v40M285.5 1055.7v40M313.5 1055.7v40M327.5 1055.7v40M338.5 1055.7v40M341.5 1055.7v40M346.5 1055.7v40M349.5 1055.7v40M366.5 1055.7v40M371.5 1055.7v40M415.5 1055.7v40M422.5 1055.7v40M545.5 1055.7v40M551.5 1055.7v40" stroke="#c44"/>
<path d="M242.5 1055.7v40M306.5 1055.7v40M309.5 1055.7v40M311.5 1055.7v40M376.5 1055.7v40" stroke="#d23"/>
<path d="M243.5 1055.7v40M249.5 1055.7v40M263.5 1055.7v40M297.5 1055.7v40M302.5 1055.7v40M321.5 1055.7v40M337.5 1055.7v40M339.5 1055.7v40M340.5 1055.7v40M353.5 1055.7v40M549.5 1055.7v40M555.5 1055.7v40" stroke="#a66"/>
<path d="M247.5 1055.7v40M248.5 1055.7v40M258.5 1055.7v40M279.5 1055.7v40M317.5 1055.7v40M334.5 1055.7v40M348.5 1055.7v40M351.5 1055.7v40M381.5 1055.7v40M383.5 1055.7v40M389.5 1055.7v40M403.5 1055.7v40M405.5 1055.7v40M413.5 1055.7v40M417.5 1055.7v40M418.5 1055.7v40M419.5 1055.7v40M427.5 1055.7v40M446.5 1055.7v40M454.5 1055.7v40M558.5 1055.7v40" stroke="#c22"/>
<path d="M251.5 1055.7v40M252.5 1055.7v40M293.5 1055.7v40M294.5 1055.7v40M296.5 1055.7v40M391.5 1055.7v40M535.5 1055.7v40M543.5 1055.7v40M544.5 1055.7v40" stroke="#888"/>
<path d="M259.5 1055.7v40M453.5 1055.7v40M559.5 1055.7v40" stroke="#b44"/>
<path d="M262.5 1055.7v40M336.5 1055.7v40" stroke="#a67"/>
<path d="M264.5 1055.7v40M368.5 1055.7v40" stroke="#822"/>
<path d="M265.5 1055.7v40M266.5 1055.7v40M288.5 1055.7v40M304.5 1055.7v40" stroke="#811"/>
<path d="M269.5 1055.7v40" stroke="#988"/>
<path d="M270.5 1055.7v40M320.5 1055.7v40M542.5 1055.7v40" stroke="#977"/>
<path d="M271.5 1055.7v40" stroke="#b33"/>
<path d="M272.5 1055.7v40M275.5 1055.7v40M277.5 1055.7v40M282.5 1055.7v40M363.5 1055.7v40" stroke="#d33"/>
<path d="M274.5 1055.7v40" stroke="#833"/>
<path d="M278.5 1055.7v40M369.5 1055.7v40M448.5 1055.7v40" stroke="#c33"/>
<path d="M283.5 1055.7v40" stroke="#655"/>
<path d="M286.5 1055.7v40M553.5 1055.7v40" stroke="#966"/>
<path d="M287.5 1055.7v40M361.5 1055.7v40" stroke="#611"/>
<path d="M292.5 1055.7v40M374.5 1055.7v40" stroke="#744"/>
<path d="M300.5 1055.7v40" stroke="#711"/>
<path d="M301.5 1055.7v40" stroke="#411"/>
<path d="M303.5 1055.7v40M554.5 1055.7v40" stroke="#844"/>
<path d="M305.5 1055.7v40" stroke="#733"/>
<path d="M308.5 1055.7v40M310.5 1055.7v40M375.5 1055.7v40M377.5 1055.7v40M550.5 1055.7v40" stroke="#c34"/>
<path d="M319.5 1055.7v40" stroke="#823"/>
<path d="M329.5 1055.7v40" stroke="#301"/>
<path d="M350.5 1055.7v40" stroke="#922"/>
<path d="M354.5 1055.7v40" stroke="#a45"/>
<path d="M355.5 1055.7v40" stroke="#944"/>
<path d="M362.5 1055.7v40" stroke="#955"/>
<path d="M421.5 1055.7v40" stroke="#b45"/>
<path d="M449.5 1055.7v40M547.5 1055.7v40" stroke="#b55"/>
<path d="M546.5 1055.7v40" stroke="#978"/>
<path d="M548.5 1055.7v40M600.5 1055.7v40" stroke="#555"/>
<path d="M552.5 1055.7v40" stroke="#a77"/>
<path d="M556.5 1055.7v40" stroke="#a34"/>
<path d="M615.5 1055.7v40M618.5 1055.7v40M622.5 1055.7v40M623.5 1055.7v40M624.5 1055.7v40M625.5 1055.7v40" stroke="#4bc"/>
<path d="M620.5 1055.7v40M621.5 1055.7v40" stroke="#299"/>
<path d="M626.5 1055.7v40" stroke="#122"/>
<path d="M636.5 1055.7v40" stroke="#c23"/>
<path d="M637.5 1055.7v40" stroke="#289"/>
<rect x="124" y="1101" width="38" height="17" fill="#F8F8F8"/>
<rect x="124" y="1118" width="25.2" height="28.6" fill="#ED1C24"/>
<rect x="149.2" y="1118" width="25.2" height="28.6" fill="#7F1416"/>
<rect x="124" y="1146.6" width="25.2" height="28.6" fill="#6DC8DA"/>
<rect x="149.2" y="1146.6" width="25.2" height="28.6" fill="#0A8482"/>
<text x="117.5" y="1133.7" text-anchor="end">Significant</text>
<text x="117.5" y="1152" text-anchor="end">correlation</text>
<text x="117.5" y="1170" text-anchor="end">SV vs expr.</text>
<text x="180.8" y="1136.7" style="font-size:14.5px">Positive</text>
<text x="180.8" y="1165.8" style="font-size:14.5px">Negative</text>
<text transform="translate(142.9 1180.4) rotate(-90)" text-anchor="end">FDR&lt;1%</text>
<text transform="translate(168.5 1180.4) rotate(-90)" text-anchor="end">FDR&lt;10%</text>
<text transform="translate(283.4 1126.5) rotate(-90)" text-anchor="end" class="i">ERBB2</text>
<line x1="278.5" y1="1100" x2="278.5" y2="1120.6" stroke="#333" stroke-width="0.8"/>
<text transform="translate(304 1126.5) rotate(-90)" text-anchor="end" class="i">MDM2</text>
<line x1="298" y1="1100" x2="298" y2="1120.6" stroke="#333" stroke-width="0.8"/>
<text transform="translate(362 1126.5) rotate(-90)" text-anchor="end" class="i">CDK4</text>
<line x1="354.5" y1="1100" x2="354.5" y2="1120.6" stroke="#333" stroke-width="0.8"/>
<text transform="translate(384 1126.5) rotate(-90)" text-anchor="end" class="i">MYC</text>
<line x1="378.4" y1="1100" x2="378.4" y2="1120.6" stroke="#333" stroke-width="0.8"/>
<text transform="translate(482.5 1126.5) rotate(-90)" text-anchor="end" class="i">TERT</text>
<line x1="477.3" y1="1100" x2="477.3" y2="1120.6" stroke="#333" stroke-width="0.8"/>
<text transform="translate(584.6 1126.5) rotate(-90)" text-anchor="end" class="i">RB1</text>
<text transform="translate(601 1126.5) rotate(-90)" text-anchor="end" class="i">SMAD4</text>
<text transform="translate(617 1126.5) rotate(-90)" text-anchor="end" class="i">TP53</text>
<text transform="translate(634 1126.5) rotate(-90)" text-anchor="end" class="i">STK11</text>
<text transform="translate(648.7 1126.5) rotate(-90)" text-anchor="end" class="i">KEAP1</text>
<text transform="translate(665.3 1126.5) rotate(-90)" text-anchor="end" class="i">PTEN</text>
<line x1="635.3" y1="1100" x2="635.3" y2="1120.6" stroke="#333" stroke-width="0.8"/>
<line x1="638.5" y1="1100" x2="638.5" y2="1120.6" stroke="#333" stroke-width="0.8"/>
<line x1="640.2" y1="1100" x2="640.2" y2="1120.6" stroke="#333" stroke-width="0.8"/>
<line x1="642" y1="1100" x2="642" y2="1120.6" stroke="#333" stroke-width="0.8"/>
<line x1="643.7" y1="1100" x2="643.7" y2="1120.6" stroke="#333" stroke-width="0.8"/>
<line x1="645.8" y1="1100" x2="645.8" y2="1120.6" stroke="#333" stroke-width="0.8"/>
<rect x="245" y="1205" width="25.2" height="28.5" fill="#000"/>
<text x="277" y="1215.6">Not significant</text>
<text x="277" y="1234.6">(<tspan class="i">p</tspan> &gt; 0.05)</text>
<rect x="447.5" y="1205" width="25.5" height="28.5" fill="#8C8C8C"/>
<text x="479.6" y="1215.6">Not assessed</text>
<text x="479.6" y="1234.6">(&lt;3 events)</text>
</g>
<g id="panel-d">
<text x="706" y="17.8" style="font-size:22px" class="b">d</text>
<text x="1000.5" y="22.5" text-anchor="middle">–Log10(<tspan class="i">p</tspan>-value)</text>
<text x="883.4" y="52.5" text-anchor="middle">0</text>
<line x1="883.4" y1="61.5" x2="883.4" y2="67.5" stroke="#000" stroke-width="1.2"/>
<text x="909.58" y="52.5" text-anchor="middle">2</text>
<line x1="909.58" y1="61.5" x2="909.58" y2="67.5" stroke="#000" stroke-width="1.2"/>
<text x="935.76" y="52.5" text-anchor="middle">4</text>
<line x1="935.76" y1="61.5" x2="935.76" y2="67.5" stroke="#000" stroke-width="1.2"/>
<text x="961.94" y="52.5" text-anchor="middle">6</text>
<line x1="961.94" y1="61.5" x2="961.94" y2="67.5" stroke="#000" stroke-width="1.2"/>
<text x="988.12" y="52.5" text-anchor="middle">8</text>
<line x1="988.12" y1="61.5" x2="988.12" y2="67.5" stroke="#000" stroke-width="1.2"/>
<text x="1014.3" y="52.5" text-anchor="middle">10</text>
<line x1="1014.3" y1="61.5" x2="1014.3" y2="67.5" stroke="#000" stroke-width="1.2"/>
<text x="1040.48" y="52.5" text-anchor="middle">12</text>
<line x1="1040.48" y1="61.5" x2="1040.48" y2="67.5" stroke="#000" stroke-width="1.2"/>
<text x="1066.66" y="52.5" text-anchor="middle">14</text>
<line x1="1066.66" y1="61.5" x2="1066.66" y2="67.5" stroke="#000" stroke-width="1.2"/>
<text x="1092.84" y="52.5" text-anchor="middle">16</text>
<line x1="1092.84" y1="61.5" x2="1092.84" y2="67.5" stroke="#000" stroke-width="1.2"/>
<text x="1119.02" y="52.5" text-anchor="middle">18</text>
<line x1="1119.02" y1="61.5" x2="1119.02" y2="67.5" stroke="#000" stroke-width="1.2"/>
<line x1="882.8" y1="67.1" x2="1119.62" y2="67.1" stroke="#000" stroke-width="1.3"/>
<line x1="883.4" y1="67" x2="883.4" y2="400" stroke="#000" stroke-width="1.4"/>
<line x1="878.4" y1="133" x2="883.4" y2="133" stroke="#000" stroke-width="1.2"/>
<line x1="878.4" y1="199.5" x2="883.4" y2="199.5" stroke="#000" stroke-width="1.2"/>
<line x1="878.4" y1="266.2" x2="883.4" y2="266.2" stroke="#000" stroke-width="1.2"/>
<line x1="878.4" y1="333" x2="883.4" y2="333" stroke="#000" stroke-width="1.2"/>
<line x1="878.4" y1="399.6" x2="883.4" y2="399.6" stroke="#000" stroke-width="1.2"/>
<rect x="883.4" y="88" width="221" height="25.5" fill="#595959"/>
<rect x="883.4" y="153.8" width="62.4" height="25.5" fill="#595959"/>
<rect x="883.4" y="220.4" width="48.8" height="26.3" fill="#595959"/>
<rect x="883.4" y="286.2" width="38.6" height="26.8" fill="#595959"/>
<rect x="883.4" y="353" width="38.6" height="26.7" fill="#595959"/>
<text x="875.8" y="96.5" text-anchor="end">G-protein coupled</text>
<text x="875.8" y="113.3" text-anchor="end">receptor activity</text>
<text x="875.8" y="162.8" text-anchor="end">Keratin</text>
<text x="875.8" y="179.8" text-anchor="end">filament</text>
<text x="875.8" y="221.2" text-anchor="end">Insulin</text>
<text x="875.8" y="238" text-anchor="end">receptor</text>
<text x="875.8" y="254.6" text-anchor="end">binding</text>
<text x="875.8" y="284" text-anchor="end">Telomerase</text>
<text x="875.8" y="300.8" text-anchor="end">holoenzyme</text>
<text x="875.8" y="316.8" text-anchor="end">complex</text>
<text x="875.8" y="355" text-anchor="end">Eukaryotic translation</text>
<text x="875.8" y="371.2" text-anchor="end">initiation factor 2B</text>
<text x="875.8" y="385.8" text-anchor="end">complex</text>
<text x="1112" y="102.8">70 genes</text>
<text x="954.3" y="170">15 genes</text>
<text x="939.5" y="229.7" class="i">DOK6, DOK7, IGF2, IRS4</text>
<text x="939.5" y="250" class="i">FRS3, FRS2, PTPN11</text>
<text x="932" y="297"><tspan class="i">TERT</tspan>, <tspan class="i">PTGES3</tspan>,</text>
<text x="932" y="317" class="i">SMG6</text>
<text x="932" y="362.7"><tspan class="i">EIF2S1</tspan>, <tspan class="i">EIF2B1</tspan>,</text>
<text x="932" y="383" class="i">EIF2B5</text>
</g>
<g id="panel-e">
<text x="705.4" y="437.4" style="font-size:22px" class="b">e</text>
<text x="811.3" y="443.5">55 out of 1220 cases with upstream SV (0–100 kb)</text>
<rect x="803.9" y="451.4" width="391.4" height="51.15" fill="#F2F2F2"/>
<text x="795.9" y="464.4" text-anchor="end" class="i">TERT</text>
<rect x="803.9" y="451.4" width="7.27" height="17.15" fill="#F9ED69"/>
<rect x="811.02" y="451.4" width="7.27" height="17.15" fill="#F7941D"/>
<rect x="818.13" y="451.4" width="14.38" height="17.15" fill="#000000"/>
<rect x="832.37" y="451.4" width="7.27" height="17.15" fill="#F7941D"/>
<rect x="839.48" y="451.4" width="7.27" height="17.15" fill="#000000"/>
<rect x="846.6" y="451.4" width="7.27" height="17.15" fill="#F7941D"/>
<rect x="853.71" y="451.4" width="64.2" height="17.15" fill="#000000"/>
<rect x="917.76" y="451.4" width="7.27" height="17.15" fill="#F9ED69"/>
<rect x="924.88" y="451.4" width="7.27" height="17.15" fill="#000000"/>
<rect x="931.99" y="451.4" width="7.27" height="17.15" fill="#F9ED69"/>
<rect x="939.11" y="451.4" width="14.38" height="17.15" fill="#000000"/>
<rect x="953.34" y="451.4" width="14.38" height="17.15" fill="#F7941D"/>
<rect x="967.58" y="451.4" width="28.62" height="17.15" fill="#000000"/>
<rect x="996.04" y="451.4" width="7.27" height="17.15" fill="#F7941D"/>
<rect x="1003.16" y="451.4" width="14.38" height="17.15" fill="#000000"/>
<rect x="1017.39" y="451.4" width="7.27" height="17.15" fill="#F7941D"/>
<rect x="1024.51" y="451.4" width="57.08" height="17.15" fill="#000000"/>
<rect x="1081.44" y="451.4" width="7.27" height="17.15" fill="#F7941D"/>
<rect x="1088.55" y="451.4" width="14.38" height="17.15" fill="#000000"/>
<rect x="803.9" y="455.83" width="14.23" height="8.18" fill="#8E8CC8"/>
<rect x="839.48" y="455.83" width="7.12" height="8.18" fill="#8E8CC8"/>
<rect x="882.18" y="455.83" width="14.23" height="8.18" fill="#8E8CC8"/>
<rect x="903.53" y="455.83" width="7.12" height="8.18" fill="#8E8CC8"/>
<rect x="917.76" y="455.83" width="7.12" height="8.18" fill="#8E8CC8"/>
<rect x="931.99" y="455.83" width="7.12" height="8.18" fill="#8E8CC8"/>
<rect x="946.23" y="455.83" width="14.23" height="8.18" fill="#8E8CC8"/>
<rect x="967.58" y="455.83" width="14.23" height="8.18" fill="#8E8CC8"/>
<rect x="988.93" y="455.83" width="14.23" height="8.18" fill="#8E8CC8"/>
<rect x="1045.86" y="455.83" width="7.12" height="8.18" fill="#8E8CC8"/>
<rect x="1067.21" y="455.83" width="7.12" height="8.18" fill="#8E8CC8"/>
<rect x="1102.79" y="455.83" width="7.12" height="8.18" fill="#8E8CC8"/>
<rect x="1131.25" y="455.83" width="14.23" height="8.18" fill="#8E8CC8"/>
<rect x="1188.18" y="455.83" width="7.12" height="8.18" fill="#8E8CC8"/>
<text x="795.9" y="481.45" text-anchor="end" class="i">PTGES3</text>
<rect x="803.9" y="468.45" width="14.38" height="17.15" fill="#000000"/>
<rect x="818.13" y="468.45" width="7.27" height="17.15" fill="#F7941D"/>
<rect x="1102.79" y="468.45" width="7.27" height="17.15" fill="#000000"/>
<rect x="1109.9" y="468.45" width="7.27" height="17.15" fill="#F7941D"/>
<rect x="1117.02" y="468.45" width="14.38" height="17.15" fill="#000000"/>
<rect x="1131.25" y="468.45" width="14.38" height="17.15" fill="#F7941D"/>
<rect x="803.9" y="472.88" width="7.12" height="8.18" fill="#8E8CC8"/>
<rect x="988.93" y="472.88" width="7.12" height="8.18" fill="#8E8CC8"/>
<rect x="1060.09" y="472.88" width="7.12" height="8.18" fill="#8E8CC8"/>
<rect x="1181.07" y="472.88" width="7.12" height="8.18" fill="#8E8CC8"/>
<text x="795.9" y="498.5" text-anchor="end" class="i">SMG6</text>
<rect x="825.25" y="485.5" width="7.27" height="17.15" fill="#F7941D"/>
<rect x="832.37" y="485.5" width="7.27" height="17.15" fill="#F9ED69"/>
<rect x="1145.49" y="485.5" width="7.27" height="17.15" fill="#000000"/>
<rect x="1152.6" y="485.5" width="42.85" height="17.15" fill="#F9ED69"/>
<rect x="825.25" y="489.93" width="7.12" height="8.18" fill="#8E8CC8"/>
<rect x="917.76" y="489.93" width="7.12" height="8.18" fill="#8E8CC8"/>
<rect x="1067.21" y="489.93" width="7.12" height="8.18" fill="#8E8CC8"/>
<rect x="1159.72" y="489.93" width="7.12" height="8.18" fill="#8E8CC8"/>
<rect x="1181.07" y="489.93" width="7.12" height="8.18" fill="#8E8CC8"/>
<text x="795.9" y="525.9" text-anchor="end" class="i">TERT</text>
<rect x="803.9" y="512.9" width="7.27" height="17.15" fill="#0A0E0C"/>
<rect x="811.02" y="512.9" width="7.27" height="17.15" fill="#2A2812"/>
<rect x="818.13" y="512.9" width="14.38" height="17.15" fill="#F7EC13"/>
<rect x="832.37" y="512.9" width="7.27" height="17.15" fill="#0A0E0C"/>
<rect x="839.48" y="512.9" width="7.27" height="17.15" fill="#F7EC13"/>
<rect x="846.6" y="512.9" width="7.27" height="17.15" fill="#0A0E0C"/>
<rect x="853.71" y="512.9" width="21.5" height="17.15" fill="#F7EC13"/>
<rect x="875.06" y="512.9" width="7.27" height="17.15" fill="#52521E"/>
<rect x="882.18" y="512.9" width="14.38" height="17.15" fill="#2A2812"/>
<rect x="896.41" y="512.9" width="7.27" height="17.15" fill="#E8E21E"/>
<rect x="903.53" y="512.9" width="7.27" height="17.15" fill="#52521E"/>
<rect x="910.65" y="512.9" width="7.27" height="17.15" fill="#F7EC13"/>
<rect x="917.76" y="512.9" width="7.27" height="17.15" fill="#0A0E0C"/>
<rect x="924.88" y="512.9" width="7.27" height="17.15" fill="#F7EC13"/>
<rect x="931.99" y="512.9" width="7.27" height="17.15" fill="#2A2812"/>
<rect x="939.11" y="512.9" width="7.27" height="17.15" fill="#0A0E0C"/>
<rect x="946.23" y="512.9" width="7.27" height="17.15" fill="#88882C"/>
<rect x="953.34" y="512.9" width="7.27" height="17.15" fill="#0A0E0C"/>
<rect x="960.46" y="512.9" width="7.27" height="17.15" fill="#F7EC13"/>
<rect x="967.58" y="512.9" width="7.27" height="17.15" fill="#0A0E0C"/>
<rect x="974.69" y="512.9" width="7.27" height="17.15" fill="#52521E"/>
<rect x="981.81" y="512.9" width="7.27" height="17.15" fill="#88882C"/>
<rect x="988.93" y="512.9" width="7.27" height="17.15" fill="#0A0E0C"/>
<rect x="996.04" y="512.9" width="7.27" height="17.15" fill="#2A2812"/>
<rect x="1003.16" y="512.9" width="7.27" height="17.15" fill="#0A0E0C"/>
<rect x="1010.27" y="512.9" width="21.5" height="17.15" fill="#F7EC13"/>
<rect x="1031.62" y="512.9" width="7.27" height="17.15" fill="#BEBE30"/>
<rect x="1038.74" y="512.9" width="7.27" height="17.15" fill="#2A2812"/>
<rect x="1045.86" y="512.9" width="14.38" height="17.15" fill="#F7EC13"/>
<rect x="1060.09" y="512.9" width="7.27" height="17.15" fill="#0A0E0C"/>
<rect x="1067.21" y="512.9" width="21.5" height="17.15" fill="#F7EC13"/>
<rect x="1088.55" y="512.9" width="7.27" height="17.15" fill="#2A2812"/>
<rect x="1095.67" y="512.9" width="14.38" height="17.15" fill="#0A0E0C"/>
<rect x="1109.9" y="512.9" width="7.27" height="17.15" fill="#2A2812"/>
<rect x="1117.02" y="512.9" width="7.27" height="17.15" fill="#0A0E0C"/>
<rect x="1124.14" y="512.9" width="14.38" height="17.15" fill="#F7EC13"/>
<rect x="1138.37" y="512.9" width="7.27" height="17.15" fill="#2A2812"/>
<rect x="1145.49" y="512.9" width="7.27" height="17.15" fill="#88882C"/>
<rect x="1152.6" y="512.9" width="7.27" height="17.15" fill="#2A2812"/>
<rect x="1159.72" y="512.9" width="7.27" height="17.15" fill="#0A0E0C"/>
<rect x="1166.83" y="512.9" width="7.27" height="17.15" fill="#2A2812"/>
<rect x="1173.95" y="512.9" width="7.27" height="17.15" fill="#0A0E0C"/>
<rect x="1181.07" y="512.9" width="7.27" height="17.15" fill="#52521E"/>
<rect x="1188.18" y="512.9" width="7.27" height="17.15" fill="#0A0E0C"/>
<text x="795.9" y="542.95" text-anchor="end" class="i">PTGES3</text>
<rect x="803.9" y="529.95" width="14.38" height="17.15" fill="#16759A"/>
<rect x="818.13" y="529.95" width="7.27" height="17.15" fill="#F7EC13"/>
<rect x="825.25" y="529.95" width="7.27" height="17.15" fill="#082A38"/>
<rect x="832.37" y="529.95" width="7.27" height="17.15" fill="#16759A"/>
<rect x="839.48" y="529.95" width="7.27" height="17.15" fill="#25B5E5"/>
<rect x="846.6" y="529.95" width="7.27" height="17.15" fill="#16759A"/>
<rect x="853.71" y="529.95" width="7.27" height="17.15" fill="#F7EC13"/>
<rect x="860.83" y="529.95" width="7.27" height="17.15" fill="#082A38"/>
<rect x="867.95" y="529.95" width="7.27" height="17.15" fill="#0E4C62"/>
<rect x="875.06" y="529.95" width="7.27" height="17.15" fill="#082A38"/>
<rect x="882.18" y="529.95" width="7.27" height="17.15" fill="#52521E"/>
<rect x="889.3" y="529.95" width="7.27" height="17.15" fill="#25B5E5"/>
<rect x="896.41" y="529.95" width="7.27" height="17.15" fill="#F7EC13"/>
<rect x="903.53" y="529.95" width="7.27" height="17.15" fill="#2A2812"/>
<rect x="910.65" y="529.95" width="14.38" height="17.15" fill="#25B5E5"/>
<rect x="924.88" y="529.95" width="7.27" height="17.15" fill="#88882C"/>
<rect x="931.99" y="529.95" width="7.27" height="17.15" fill="#0A0E0C"/>
<rect x="939.11" y="529.95" width="14.38" height="17.15" fill="#25B5E5"/>
<rect x="953.34" y="529.95" width="7.27" height="17.15" fill="#1C9CCC"/>
<rect x="960.46" y="529.95" width="7.27" height="17.15" fill="#0A0E0C"/>
<rect x="967.58" y="529.95" width="7.27" height="17.15" fill="#16759A"/>
<rect x="974.69" y="529.95" width="14.38" height="17.15" fill="#082A38"/>
<rect x="988.93" y="529.95" width="7.27" height="17.15" fill="#2A2812"/>
<rect x="996.04" y="529.95" width="7.27" height="17.15" fill="#16759A"/>
<rect x="1003.16" y="529.95" width="7.27" height="17.15" fill="#88882C"/>
<rect x="1010.27" y="529.95" width="7.27" height="17.15" fill="#16759A"/>
<rect x="1017.39" y="529.95" width="21.5" height="17.15" fill="#F7EC13"/>
<rect x="1038.74" y="529.95" width="7.27" height="17.15" fill="#2A2812"/>
<rect x="1045.86" y="529.95" width="7.27" height="17.15" fill="#F7EC13"/>
<rect x="1052.97" y="529.95" width="7.27" height="17.15" fill="#88882C"/>
<rect x="1060.09" y="529.95" width="7.27" height="17.15" fill="#25B5E5"/>
<rect x="1067.21" y="529.95" width="7.27" height="17.15" fill="#88882C"/>
<rect x="1074.32" y="529.95" width="7.27" height="17.15" fill="#0E4C62"/>
<rect x="1081.44" y="529.95" width="7.27" height="17.15" fill="#0A0E0C"/>
<rect x="1088.55" y="529.95" width="7.27" height="17.15" fill="#F7EC13"/>
<rect x="1095.67" y="529.95" width="7.27" height="17.15" fill="#25B5E5"/>
<rect x="1102.79" y="529.95" width="7.27" height="17.15" fill="#F7EC13"/>
<rect x="1109.9" y="529.95" width="7.27" height="17.15" fill="#0E4C62"/>
<rect x="1117.02" y="529.95" width="7.27" height="17.15" fill="#0A0E0C"/>
<rect x="1124.14" y="529.95" width="7.27" height="17.15" fill="#E8E21E"/>
<rect x="1131.25" y="529.95" width="7.27" height="17.15" fill="#2A2812"/>
<rect x="1138.37" y="529.95" width="7.27" height="17.15" fill="#0E4C62"/>
<rect x="1145.49" y="529.95" width="7.27" height="17.15" fill="#F7EC13"/>
<rect x="1152.6" y="529.95" width="7.27" height="17.15" fill="#16759A"/>
<rect x="1159.72" y="529.95" width="7.27" height="17.15" fill="#1C9CCC"/>
<rect x="1166.83" y="529.95" width="7.27" height="17.15" fill="#88882C"/>
<rect x="1173.95" y="529.95" width="7.27" height="17.15" fill="#F7EC13"/>
<rect x="1181.07" y="529.95" width="7.27" height="17.15" fill="#BEBE30"/>
<rect x="1188.18" y="529.95" width="7.27" height="17.15" fill="#52521E"/>
<text x="795.9" y="560" text-anchor="end" class="i">SMG6</text>
<rect x="803.9" y="547" width="14.38" height="17.15" fill="#F7EC13"/>
<rect x="818.13" y="547" width="7.27" height="17.15" fill="#25B5E5"/>
<rect x="825.25" y="547" width="7.27" height="17.15" fill="#88882C"/>
<rect x="832.37" y="547" width="7.27" height="17.15" fill="#0A0E0C"/>
<rect x="839.48" y="547" width="7.27" height="17.15" fill="#F7EC13"/>
<rect x="846.6" y="547" width="7.27" height="17.15" fill="#BEBE30"/>
<rect x="853.71" y="547" width="7.27" height="17.15" fill="#52521E"/>
<rect x="860.83" y="547" width="7.27" height="17.15" fill="#F7EC13"/>
<rect x="867.95" y="547" width="7.27" height="17.15" fill="#25B5E5"/>
<rect x="875.06" y="547" width="7.27" height="17.15" fill="#0E4C62"/>
<rect x="882.18" y="547" width="7.27" height="17.15" fill="#16759A"/>
<rect x="889.3" y="547" width="7.27" height="17.15" fill="#082A38"/>
<rect x="896.41" y="547" width="14.38" height="17.15" fill="#F7EC13"/>
<rect x="910.65" y="547" width="7.27" height="17.15" fill="#082A38"/>
<rect x="917.76" y="547" width="7.27" height="17.15" fill="#F7EC13"/>
<rect x="924.88" y="547" width="7.27" height="17.15" fill="#0E4C62"/>
<rect x="931.99" y="547" width="14.38" height="17.15" fill="#25B5E5"/>
<rect x="946.23" y="547" width="7.27" height="17.15" fill="#F7EC13"/>
<rect x="953.34" y="547" width="7.27" height="17.15" fill="#52521E"/>
<rect x="960.46" y="547" width="7.27" height="17.15" fill="#0E4C62"/>
<rect x="967.58" y="547" width="7.27" height="17.15" fill="#F7EC13"/>
<rect x="974.69" y="547" width="7.27" height="17.15" fill="#BEBE30"/>
<rect x="981.81" y="547" width="14.38" height="17.15" fill="#25B5E5"/>
<rect x="996.04" y="547" width="7.27" height="17.15" fill="#52521E"/>
<rect x="1003.16" y="547" width="14.38" height="17.15" fill="#F7EC13"/>
<rect x="1017.39" y="547" width="7.27" height="17.15" fill="#25B5E5"/>
<rect x="1024.51" y="547" width="7.27" height="17.15" fill="#16759A"/>
<rect x="1031.62" y="547" width="7.27" height="17.15" fill="#2A2812"/>
<rect x="1038.74" y="547" width="7.27" height="17.15" fill="#16759A"/>
<rect x="1045.86" y="547" width="7.27" height="17.15" fill="#25B5E5"/>
<rect x="1052.97" y="547" width="7.27" height="17.15" fill="#082A38"/>
<rect x="1060.09" y="547" width="7.27" height="17.15" fill="#0A0E0C"/>
<rect x="1067.21" y="547" width="7.27" height="17.15" fill="#E8E21E"/>
<rect x="1074.32" y="547" width="14.38" height="17.15" fill="#F7EC13"/>
<rect x="1088.55" y="547" width="7.27" height="17.15" fill="#0A0E0C"/>
<rect x="1095.67" y="547" width="7.27" height="17.15" fill="#E8E21E"/>
<rect x="1102.79" y="547" width="7.27" height="17.15" fill="#25B5E5"/>
<rect x="1109.9" y="547" width="7.27" height="17.15" fill="#082A38"/>
<rect x="1117.02" y="547" width="7.27" height="17.15" fill="#F7EC13"/>
<rect x="1124.14" y="547" width="7.27" height="17.15" fill="#16759A"/>
<rect x="1131.25" y="547" width="7.27" height="17.15" fill="#2A2812"/>
<rect x="1138.37" y="547" width="7.27" height="17.15" fill="#25B5E5"/>
<rect x="1145.49" y="547" width="7.27" height="17.15" fill="#BEBE30"/>
<rect x="1152.6" y="547" width="21.5" height="17.15" fill="#F7EC13"/>
<rect x="1173.95" y="547" width="7.27" height="17.15" fill="#0E4C62"/>
<rect x="1181.07" y="547" width="7.27" height="17.15" fill="#F7EC13"/>
<rect x="1188.18" y="547" width="7.27" height="17.15" fill="#52521E"/>
<text x="796.4" y="589.8" text-anchor="end">Cancer type</text>
<rect x="803.9" y="573.6" width="14.38" height="20.7" fill="#F7EC13"/>
<rect x="818.13" y="573.6" width="14.38" height="20.7" fill="#6DBE45"/>
<rect x="832.37" y="573.6" width="7.27" height="20.7" fill="#F9BFCB"/>
<rect x="839.48" y="573.6" width="7.27" height="20.7" fill="#F7EC13"/>
<rect x="846.6" y="573.6" width="14.38" height="20.7" fill="#F7941D"/>
<rect x="860.83" y="573.6" width="7.27" height="20.7" fill="#F7EC13"/>
<rect x="867.95" y="573.6" width="7.27" height="20.7" fill="#6DBE45"/>
<rect x="875.06" y="573.6" width="7.27" height="20.7" fill="#F7941D"/>
<rect x="882.18" y="573.6" width="14.38" height="20.7" fill="#6DBE45"/>
<rect x="896.41" y="573.6" width="14.38" height="20.7" fill="#000000"/>
<rect x="910.65" y="573.6" width="7.27" height="20.7" fill="#F7941D"/>
<rect x="917.76" y="573.6" width="7.27" height="20.7" fill="#F7EC13"/>
<rect x="924.88" y="573.6" width="7.27" height="20.7" fill="#6DBE45"/>
<rect x="931.99" y="573.6" width="7.27" height="20.7" fill="#ED1C24"/>
<rect x="939.11" y="573.6" width="7.27" height="20.7" fill="#6DBE45"/>
<rect x="946.23" y="573.6" width="7.27" height="20.7" fill="#F7EC13"/>
<rect x="953.34" y="573.6" width="7.27" height="20.7" fill="#F9BFCB"/>
<rect x="960.46" y="573.6" width="7.27" height="20.7" fill="#0A9390"/>
<rect x="967.58" y="573.6" width="7.27" height="20.7" fill="#F7EC13"/>
<rect x="974.69" y="573.6" width="7.27" height="20.7" fill="#000000"/>
<rect x="981.81" y="573.6" width="14.38" height="20.7" fill="#6DBE45"/>
<rect x="996.04" y="573.6" width="7.27" height="20.7" fill="#ED1C24"/>
<rect x="1003.16" y="573.6" width="7.27" height="20.7" fill="#F7EC13"/>
<rect x="1010.27" y="573.6" width="7.27" height="20.7" fill="#F7941D"/>
<rect x="1017.39" y="573.6" width="7.27" height="20.7" fill="#F9BFCB"/>
<rect x="1024.51" y="573.6" width="7.27" height="20.7" fill="#2E2A80"/>
<rect x="1031.62" y="573.6" width="7.27" height="20.7" fill="#F7941D"/>
<rect x="1038.74" y="573.6" width="21.5" height="20.7" fill="#6DBE45"/>
<rect x="1060.09" y="573.6" width="7.27" height="20.7" fill="#F7EC13"/>
<rect x="1067.21" y="573.6" width="7.27" height="20.7" fill="#FFD400"/>
<rect x="1074.32" y="573.6" width="7.27" height="20.7" fill="#F7EC13"/>
<rect x="1081.44" y="573.6" width="21.5" height="20.7" fill="#F7941D"/>
<rect x="1102.79" y="573.6" width="7.27" height="20.7" fill="#0A9390"/>
<rect x="1109.9" y="573.6" width="7.27" height="20.7" fill="#FFD400"/>
<rect x="1117.02" y="573.6" width="7.27" height="20.7" fill="#F7EC13"/>
<rect x="1124.14" y="573.6" width="7.27" height="20.7" fill="#FDD9B5"/>
<rect x="1131.25" y="573.6" width="7.27" height="20.7" fill="#8E6FB4"/>
<rect x="1138.37" y="573.6" width="7.27" height="20.7" fill="#0A9390"/>
<rect x="1145.49" y="573.6" width="7.27" height="20.7" fill="#2E2A80"/>
<rect x="1152.6" y="573.6" width="7.27" height="20.7" fill="#0A9390"/>
<rect x="1159.72" y="573.6" width="7.27" height="20.7" fill="#F7EC13"/>
<rect x="1166.83" y="573.6" width="7.27" height="20.7" fill="#ED1C24"/>
<rect x="1173.95" y="573.6" width="7.27" height="20.7" fill="#6DBE45"/>
<rect x="1181.07" y="573.6" width="14.38" height="20.7" fill="#0A9390"/>
<text x="811.3" y="629.7">22 out of 1220 cases with upstream SV (0–100 kb)</text>
<rect x="803.9" y="638.2" width="391.4" height="51" fill="#F2F2F2"/>
<text x="795.9" y="651.2" text-anchor="end" class="i">EIF2S1</text>
<rect x="803.9" y="638.2" width="17.94" height="17.1" fill="#000000"/>
<rect x="821.69" y="638.2" width="17.94" height="17.1" fill="#F7941D"/>
<rect x="839.48" y="638.2" width="35.73" height="17.1" fill="#000000"/>
<rect x="875.06" y="638.2" width="89.1" height="17.1" fill="#F7941D"/>
<rect x="964.02" y="638.2" width="17.94" height="17.1" fill="#000000"/>
<rect x="964.62" y="642.62" width="16.59" height="8.16" fill="#8E8CC8"/>
<rect x="1178.11" y="642.62" width="16.59" height="8.16" fill="#8E8CC8"/>
<text x="795.9" y="668.2" text-anchor="end" class="i">EIF2B1</text>
<rect x="981.81" y="655.2" width="17.94" height="17.1" fill="#F9ED69"/>
<rect x="999.6" y="655.2" width="35.73" height="17.1" fill="#F7941D"/>
<rect x="1035.18" y="655.2" width="71.31" height="17.1" fill="#F9ED69"/>
<rect x="1106.35" y="655.2" width="17.94" height="17.1" fill="#F7941D"/>
<rect x="982.41" y="659.62" width="16.59" height="8.16" fill="#8E8CC8"/>
<rect x="1035.78" y="659.62" width="16.59" height="8.16" fill="#8E8CC8"/>
<rect x="1071.36" y="659.62" width="16.59" height="8.16" fill="#8E8CC8"/>
<rect x="1124.74" y="659.62" width="16.59" height="8.16" fill="#8E8CC8"/>
<text x="795.9" y="685.2" text-anchor="end" class="i">EIF2B5</text>
<rect x="1124.14" y="672.2" width="71.31" height="17.1" fill="#000000"/>
<rect x="1035.78" y="676.62" width="34.38" height="8.16" fill="#8E8CC8"/>
<rect x="1142.53" y="676.62" width="34.38" height="8.16" fill="#8E8CC8"/>
<text x="795.9" y="715" text-anchor="end" class="i">EIF2S1</text>
<rect x="803.9" y="702" width="35.73" height="17.1" fill="#F7EC13"/>
<rect x="839.48" y="702" width="17.94" height="17.1" fill="#88882C"/>
<rect x="857.27" y="702" width="17.94" height="17.1" fill="#F7EC13"/>
<rect x="875.06" y="702" width="17.94" height="17.1" fill="#88882C"/>
<rect x="892.85" y="702" width="17.94" height="17.1" fill="#6C6C26"/>
<rect x="910.65" y="702" width="17.94" height="17.1" fill="#BEBE30"/>
<rect x="928.44" y="702" width="53.52" height="17.1" fill="#F7EC13"/>
<rect x="981.81" y="702" width="17.94" height="17.1" fill="#082A38"/>
<rect x="999.6" y="702" width="17.94" height="17.1" fill="#25B5E5"/>
<rect x="1017.39" y="702" width="35.73" height="17.1" fill="#52521E"/>
<rect x="1052.97" y="702" width="35.73" height="17.1" fill="#88882C"/>
<rect x="1088.55" y="702" width="17.94" height="17.1" fill="#E8E21E"/>
<rect x="1106.35" y="702" width="89.1" height="17.1" fill="#F7EC13"/>
<text x="795.9" y="732" text-anchor="end" class="i">EIF2B1</text>
<rect x="803.9" y="719" width="17.94" height="17.1" fill="#F7EC13"/>
<rect x="821.69" y="719" width="17.94" height="17.1" fill="#1C9CCC"/>
<rect x="839.48" y="719" width="17.94" height="17.1" fill="#F7EC13"/>
<rect x="857.27" y="719" width="17.94" height="17.1" fill="#25B5E5"/>
<rect x="875.06" y="719" width="17.94" height="17.1" fill="#0A0E0C"/>
<rect x="892.85" y="719" width="17.94" height="17.1" fill="#52521E"/>
<rect x="910.65" y="719" width="17.94" height="17.1" fill="#16759A"/>
<rect x="928.44" y="719" width="17.94" height="17.1" fill="#0A0E0C"/>
<rect x="946.23" y="719" width="17.94" height="17.1" fill="#25B5E5"/>
<rect x="964.02" y="719" width="17.94" height="17.1" fill="#16759A"/>
<rect x="981.81" y="719" width="17.94" height="17.1" fill="#F7EC13"/>
<rect x="999.6" y="719" width="17.94" height="17.1" fill="#2A2812"/>
<rect x="1017.39" y="719" width="124.69" height="17.1" fill="#F7EC13"/>
<rect x="1141.93" y="719" width="17.94" height="17.1" fill="#88882C"/>
<rect x="1159.72" y="719" width="17.94" height="17.1" fill="#0A0E0C"/>
<rect x="1177.51" y="719" width="17.94" height="17.1" fill="#082A38"/>
<text x="795.9" y="749" text-anchor="end" class="i">EIF2B5</text>
<rect x="803.9" y="736" width="17.94" height="17.1" fill="#2A2812"/>
<rect x="821.69" y="736" width="17.94" height="17.1" fill="#1C9CCC"/>
<rect x="839.48" y="736" width="17.94" height="17.1" fill="#F7EC13"/>
<rect x="857.27" y="736" width="17.94" height="17.1" fill="#0E4C62"/>
<rect x="875.06" y="736" width="17.94" height="17.1" fill="#BEBE30"/>
<rect x="892.85" y="736" width="17.94" height="17.1" fill="#2A2812"/>
<rect x="910.65" y="736" width="17.94" height="17.1" fill="#0E4C62"/>
<rect x="928.44" y="736" width="35.73" height="17.1" fill="#0A0E0C"/>
<rect x="964.02" y="736" width="17.94" height="17.1" fill="#082A38"/>
<rect x="981.81" y="736" width="35.73" height="17.1" fill="#25B5E5"/>
<rect x="1017.39" y="736" width="17.94" height="17.1" fill="#88882C"/>
<rect x="1035.18" y="736" width="17.94" height="17.1" fill="#082A38"/>
<rect x="1052.97" y="736" width="17.94" height="17.1" fill="#F7EC13"/>
<rect x="1070.76" y="736" width="35.73" height="17.1" fill="#52521E"/>
<rect x="1106.35" y="736" width="17.94" height="17.1" fill="#082A38"/>
<rect x="1124.14" y="736" width="17.94" height="17.1" fill="#E8E21E"/>
<rect x="1141.93" y="736" width="53.52" height="17.1" fill="#F7EC13"/>
<text x="796.4" y="781.1" text-anchor="end">Cancer type</text>
<rect x="803.9" y="764.9" width="17.94" height="20.7" fill="#000000"/>
<rect x="821.69" y="764.9" width="17.94" height="20.7" fill="#F7941D"/>
<rect x="839.48" y="764.9" width="17.94" height="20.7" fill="#BFD730"/>
<rect x="857.27" y="764.9" width="17.94" height="20.7" fill="#ED1C24"/>
<rect x="875.06" y="764.9" width="35.73" height="20.7" fill="#2E2A80"/>
<rect x="910.65" y="764.9" width="17.94" height="20.7" fill="#8E6FB4"/>
<rect x="928.44" y="764.9" width="17.94" height="20.7" fill="#FFD400"/>
<rect x="946.23" y="764.9" width="17.94" height="20.7" fill="#8E6FB4"/>
<rect x="964.02" y="764.9" width="17.94" height="20.7" fill="#B0305A"/>
<rect x="981.81" y="764.9" width="35.73" height="20.7" fill="#F7EC13"/>
<rect x="1017.39" y="764.9" width="17.94" height="20.7" fill="#000000"/>
<rect x="1035.18" y="764.9" width="17.94" height="20.7" fill="#F9BFCB"/>
<rect x="1052.97" y="764.9" width="35.73" height="20.7" fill="#ED1C24"/>
<rect x="1088.55" y="764.9" width="17.94" height="20.7" fill="#F9BFCB"/>
<rect x="1106.35" y="764.9" width="17.94" height="20.7" fill="#BFD730"/>
<rect x="1124.14" y="764.9" width="53.52" height="20.7" fill="#ED1C24"/>
<rect x="1177.51" y="764.9" width="17.94" height="20.7" fill="#F9BFCB"/>
<text x="811.3" y="819.7">60 out of 1220 cases with upstream SV (0–100 kb)</text>
<rect x="803.9" y="826.1" width="391.4" height="119.7" fill="#F2F2F2"/>
<text x="795.9" y="839.1" text-anchor="end" class="i">DOK6</text>
<rect x="803.9" y="826.1" width="6.67" height="17.2" fill="#F9ED69"/>
<rect x="810.42" y="826.1" width="6.67" height="17.2" fill="#F7941D"/>
<rect x="816.95" y="826.1" width="6.67" height="17.2" fill="#F9ED69"/>
<rect x="823.47" y="826.1" width="13.2" height="17.2" fill="#F7941D"/>
<rect x="823.47" y="830.55" width="6.52" height="8.21" fill="#8E8CC8"/>
<rect x="999.6" y="830.55" width="6.52" height="8.21" fill="#8E8CC8"/>
<rect x="1012.65" y="830.55" width="6.52" height="8.21" fill="#8E8CC8"/>
<text x="795.9" y="856.2" text-anchor="end" class="i">DOK7</text>
<rect x="836.52" y="843.2" width="13.2" height="17.2" fill="#F9ED69"/>
<rect x="849.56" y="843.2" width="13.2" height="17.2" fill="#F7941D"/>
<rect x="862.61" y="843.2" width="6.67" height="17.2" fill="#F9ED69"/>
<rect x="869.13" y="843.2" width="6.67" height="17.2" fill="#F7941D"/>
<rect x="803.9" y="847.65" width="6.52" height="8.21" fill="#8E8CC8"/>
<rect x="856.09" y="847.65" width="6.52" height="8.21" fill="#8E8CC8"/>
<rect x="940.89" y="847.65" width="6.52" height="8.21" fill="#8E8CC8"/>
<rect x="999.6" y="847.65" width="6.52" height="8.21" fill="#8E8CC8"/>
<rect x="1012.65" y="847.65" width="6.52" height="8.21" fill="#8E8CC8"/>
<text x="795.9" y="873.3" text-anchor="end" class="i">FRS2</text>
<rect x="875.66" y="860.3" width="6.67" height="17.2" fill="#000000"/>
<rect x="882.18" y="860.3" width="6.67" height="17.2" fill="#F9ED69"/>
<rect x="888.7" y="860.3" width="6.67" height="17.2" fill="#F7941D"/>
<rect x="895.23" y="860.3" width="13.2" height="17.2" fill="#000000"/>
<rect x="908.27" y="860.3" width="6.67" height="17.2" fill="#F9ED69"/>
<rect x="914.8" y="860.3" width="13.2" height="17.2" fill="#F7941D"/>
<rect x="927.84" y="860.3" width="6.67" height="17.2" fill="#F9ED69"/>
<rect x="934.37" y="860.3" width="6.67" height="17.2" fill="#000000"/>
<rect x="940.89" y="860.3" width="6.67" height="17.2" fill="#F9ED69"/>
<rect x="947.41" y="860.3" width="13.2" height="17.2" fill="#000000"/>
<rect x="960.46" y="860.3" width="6.67" height="17.2" fill="#F7941D"/>
<rect x="966.98" y="860.3" width="13.2" height="17.2" fill="#F9ED69"/>
<rect x="980.03" y="860.3" width="6.67" height="17.2" fill="#000000"/>
<rect x="986.55" y="860.3" width="6.67" height="17.2" fill="#F7941D"/>
<rect x="993.08" y="860.3" width="13.2" height="17.2" fill="#000000"/>
<rect x="1006.12" y="860.3" width="6.67" height="17.2" fill="#F9ED69"/>
<rect x="1012.65" y="860.3" width="13.2" height="17.2" fill="#000000"/>
<rect x="875.66" y="864.75" width="13.05" height="8.21" fill="#8E8CC8"/>
<rect x="895.23" y="864.75" width="6.52" height="8.21" fill="#8E8CC8"/>
<rect x="921.32" y="864.75" width="6.52" height="8.21" fill="#8E8CC8"/>
<rect x="934.37" y="864.75" width="6.52" height="8.21" fill="#8E8CC8"/>
<rect x="947.41" y="864.75" width="32.62" height="8.21" fill="#8E8CC8"/>
<rect x="999.6" y="864.75" width="6.52" height="8.21" fill="#8E8CC8"/>
<rect x="1012.65" y="864.75" width="13.05" height="8.21" fill="#8E8CC8"/>
<rect x="1064.83" y="864.75" width="6.52" height="8.21" fill="#8E8CC8"/>
<rect x="1090.93" y="864.75" width="6.52" height="8.21" fill="#8E8CC8"/>
<rect x="1149.64" y="864.75" width="6.52" height="8.21" fill="#8E8CC8"/>
<text x="795.9" y="890.4" text-anchor="end" class="i">FRS3</text>
<rect x="875.66" y="877.4" width="6.67" height="17.2" fill="#000000"/>
<rect x="1025.69" y="877.4" width="6.67" height="17.2" fill="#F9ED69"/>
<rect x="1032.22" y="877.4" width="6.67" height="17.2" fill="#000000"/>
<rect x="1038.74" y="877.4" width="6.67" height="17.2" fill="#F7941D"/>
<rect x="1045.26" y="877.4" width="6.67" height="17.2" fill="#F9ED69"/>
<rect x="1051.79" y="877.4" width="6.67" height="17.2" fill="#F7941D"/>
<rect x="1058.31" y="877.4" width="6.67" height="17.2" fill="#F9ED69"/>
<rect x="1064.83" y="877.4" width="6.67" height="17.2" fill="#000000"/>
<rect x="803.9" y="881.85" width="6.52" height="8.21" fill="#8E8CC8"/>
<rect x="862.61" y="881.85" width="6.52" height="8.21" fill="#8E8CC8"/>
<rect x="999.6" y="881.85" width="6.52" height="8.21" fill="#8E8CC8"/>
<rect x="1012.65" y="881.85" width="6.52" height="8.21" fill="#8E8CC8"/>
<rect x="1051.79" y="881.85" width="19.57" height="8.21" fill="#8E8CC8"/>
<rect x="1182.25" y="881.85" width="6.52" height="8.21" fill="#8E8CC8"/>
<text x="795.9" y="907.5" text-anchor="end" class="i">IGF2</text>
<rect x="882.18" y="894.5" width="6.67" height="17.2" fill="#F7941D"/>
<rect x="1071.36" y="894.5" width="19.72" height="17.2" fill="#F9ED69"/>
<rect x="1090.93" y="894.5" width="13.2" height="17.2" fill="#F7941D"/>
<rect x="1103.97" y="894.5" width="13.2" height="17.2" fill="#F9ED69"/>
<rect x="1012.65" y="898.95" width="6.52" height="8.21" fill="#8E8CC8"/>
<rect x="1038.74" y="898.95" width="6.52" height="8.21" fill="#8E8CC8"/>
<text x="795.9" y="924.6" text-anchor="end" class="i">IRS4</text>
<rect x="888.7" y="911.6" width="6.67" height="17.2" fill="#000000"/>
<rect x="1117.02" y="911.6" width="6.67" height="17.2" fill="#F9ED69"/>
<rect x="1123.54" y="911.6" width="6.67" height="17.2" fill="#000000"/>
<rect x="1130.07" y="911.6" width="6.67" height="17.2" fill="#F9ED69"/>
<rect x="1136.59" y="911.6" width="6.67" height="17.2" fill="#000000"/>
<rect x="1012.65" y="916.05" width="6.52" height="8.21" fill="#8E8CC8"/>
<text x="795.9" y="941.7" text-anchor="end" class="i">PTPN11</text>
<rect x="895.23" y="928.7" width="13.2" height="17.2" fill="#000000"/>
<rect x="1143.11" y="928.7" width="6.67" height="17.2" fill="#000000"/>
<rect x="1149.64" y="928.7" width="6.67" height="17.2" fill="#F7941D"/>
<rect x="1156.16" y="928.7" width="6.67" height="17.2" fill="#F9ED69"/>
<rect x="1162.68" y="928.7" width="6.67" height="17.2" fill="#F7941D"/>
<rect x="1169.21" y="928.7" width="13.2" height="17.2" fill="#F9ED69"/>
<rect x="1182.25" y="928.7" width="6.67" height="17.2" fill="#000000"/>
<rect x="1188.78" y="928.7" width="6.67" height="17.2" fill="#F9ED69"/>
<rect x="1012.65" y="933.15" width="6.52" height="8.21" fill="#8E8CC8"/>
<rect x="1149.64" y="933.15" width="6.52" height="8.21" fill="#8E8CC8"/>
<text x="795.9" y="973.8" text-anchor="end" class="i">DOK6</text>
<rect x="803.9" y="960.8" width="6.67" height="17.2" fill="#082A38"/>
<rect x="810.42" y="960.8" width="6.67" height="17.2" fill="#F7EC13"/>
<rect x="816.95" y="960.8" width="6.67" height="17.2" fill="#082A38"/>
<rect x="823.47" y="960.8" width="13.2" height="17.2" fill="#F7EC13"/>
<rect x="836.52" y="960.8" width="6.67" height="17.2" fill="#082A38"/>
<rect x="843.04" y="960.8" width="6.67" height="17.2" fill="#52521E"/>
<rect x="849.56" y="960.8" width="6.67" height="17.2" fill="#2A2812"/>
<rect x="856.09" y="960.8" width="6.67" height="17.2" fill="#0A0E0C"/>
<rect x="862.61" y="960.8" width="13.2" height="17.2" fill="#082A38"/>
<rect x="875.66" y="960.8" width="6.67" height="17.2" fill="#BEBE30"/>
<rect x="882.18" y="960.8" width="6.67" height="17.2" fill="#F7EC13"/>
<rect x="888.7" y="960.8" width="6.67" height="17.2" fill="#2A2812"/>
<rect x="895.23" y="960.8" width="6.67" height="17.2" fill="#F7EC13"/>
<rect x="901.75" y="960.8" width="6.67" height="17.2" fill="#082A38"/>
<rect x="908.27" y="960.8" width="13.2" height="17.2" fill="#BEBE30"/>
<rect x="921.32" y="960.8" width="6.67" height="17.2" fill="#88882C"/>
<rect x="927.84" y="960.8" width="6.67" height="17.2" fill="#52521E"/>
<rect x="934.37" y="960.8" width="6.67" height="17.2" fill="#0A0E0C"/>
<rect x="940.89" y="960.8" width="6.67" height="17.2" fill="#0E4C62"/>
<rect x="947.41" y="960.8" width="13.2" height="17.2" fill="#F7EC13"/>
<rect x="960.46" y="960.8" width="13.2" height="17.2" fill="#082A38"/>
<rect x="973.51" y="960.8" width="6.67" height="17.2" fill="#88882C"/>
<rect x="980.03" y="960.8" width="26.24" height="17.2" fill="#F7EC13"/>
<rect x="1006.12" y="960.8" width="6.67" height="17.2" fill="#BEBE30"/>
<rect x="1012.65" y="960.8" width="6.67" height="17.2" fill="#0A0E0C"/>
<rect x="1019.17" y="960.8" width="6.67" height="17.2" fill="#082A38"/>
<rect x="1025.69" y="960.8" width="6.67" height="17.2" fill="#0A0E0C"/>
<rect x="1032.22" y="960.8" width="6.67" height="17.2" fill="#082A38"/>
<rect x="1038.74" y="960.8" width="6.67" height="17.2" fill="#52521E"/>
<rect x="1045.26" y="960.8" width="6.67" height="17.2" fill="#082A38"/>
<rect x="1051.79" y="960.8" width="6.67" height="17.2" fill="#52521E"/>
<rect x="1058.31" y="960.8" width="6.67" height="17.2" fill="#082A38"/>
<rect x="1064.83" y="960.8" width="6.67" height="17.2" fill="#52521E"/>
<rect x="1071.36" y="960.8" width="13.2" height="17.2" fill="#082A38"/>
<rect x="1084.4" y="960.8" width="6.67" height="17.2" fill="#0A0E0C"/>
<rect x="1090.93" y="960.8" width="6.67" height="17.2" fill="#F7EC13"/>
<rect x="1097.45" y="960.8" width="6.67" height="17.2" fill="#0A0E0C"/>
<rect x="1103.97" y="960.8" width="6.67" height="17.2" fill="#082A38"/>
<rect x="1110.5" y="960.8" width="6.67" height="17.2" fill="#52521E"/>
<rect x="1117.02" y="960.8" width="13.2" height="17.2" fill="#082A38"/>
<rect x="1130.07" y="960.8" width="6.67" height="17.2" fill="#F7EC13"/>
<rect x="1136.59" y="960.8" width="6.67" height="17.2" fill="#2A2812"/>
<rect x="1143.11" y="960.8" width="6.67" height="17.2" fill="#F7EC13"/>
<rect x="1149.64" y="960.8" width="6.67" height="17.2" fill="#2A2812"/>
<rect x="1156.16" y="960.8" width="6.67" height="17.2" fill="#082A38"/>
<rect x="1162.68" y="960.8" width="6.67" height="17.2" fill="#0A0E0C"/>
<rect x="1169.21" y="960.8" width="13.2" height="17.2" fill="#2A2812"/>
<rect x="1182.25" y="960.8" width="6.67" height="17.2" fill="#52521E"/>
<rect x="1188.78" y="960.8" width="6.67" height="17.2" fill="#F7EC13"/>
<text x="795.9" y="990.9" text-anchor="end" class="i">DOK7</text>
<rect x="803.9" y="977.9" width="6.67" height="17.2" fill="#F7EC13"/>
<rect x="810.42" y="977.9" width="6.67" height="17.2" fill="#082A38"/>
<rect x="816.95" y="977.9" width="19.72" height="17.2" fill="#125C78"/>
<rect x="836.52" y="977.9" width="6.67" height="17.2" fill="#F7EC13"/>
<rect x="843.04" y="977.9" width="6.67" height="17.2" fill="#082A38"/>
<rect x="849.56" y="977.9" width="26.24" height="17.2" fill="#F7EC13"/>
<rect x="875.66" y="977.9" width="13.2" height="17.2" fill="#125C78"/>
<rect x="888.7" y="977.9" width="13.2" height="17.2" fill="#082A38"/>
<rect x="901.75" y="977.9" width="13.2" height="17.2" fill="#125C78"/>
<rect x="914.8" y="977.9" width="6.67" height="17.2" fill="#0E4C62"/>
<rect x="921.32" y="977.9" width="6.67" height="17.2" fill="#082A38"/>
<rect x="927.84" y="977.9" width="6.67" height="17.2" fill="#2A2812"/>
<rect x="934.37" y="977.9" width="6.67" height="17.2" fill="#88882C"/>
<rect x="940.89" y="977.9" width="6.67" height="17.2" fill="#F7EC13"/>
<rect x="947.41" y="977.9" width="26.24" height="17.2" fill="#125C78"/>
<rect x="973.51" y="977.9" width="6.67" height="17.2" fill="#0E4C62"/>
<rect x="980.03" y="977.9" width="6.67" height="17.2" fill="#52521E"/>
<rect x="986.55" y="977.9" width="6.67" height="17.2" fill="#125C78"/>
<rect x="993.08" y="977.9" width="6.67" height="17.2" fill="#52521E"/>
<rect x="999.6" y="977.9" width="13.2" height="17.2" fill="#0E4C62"/>
<rect x="1012.65" y="977.9" width="6.67" height="17.2" fill="#082A38"/>
<rect x="1019.17" y="977.9" width="6.67" height="17.2" fill="#52521E"/>
<rect x="1025.69" y="977.9" width="6.67" height="17.2" fill="#0A0E0C"/>
<rect x="1032.22" y="977.9" width="6.67" height="17.2" fill="#0E4C62"/>
<rect x="1038.74" y="977.9" width="26.24" height="17.2" fill="#F7EC13"/>
<rect x="1064.83" y="977.9" width="6.67" height="17.2" fill="#0E4C62"/>
<rect x="1071.36" y="977.9" width="6.67" height="17.2" fill="#88882C"/>
<rect x="1077.88" y="977.9" width="6.67" height="17.2" fill="#52521E"/>
<rect x="1084.4" y="977.9" width="6.67" height="17.2" fill="#F7EC13"/>
<rect x="1090.93" y="977.9" width="6.67" height="17.2" fill="#BEBE30"/>
<rect x="1097.45" y="977.9" width="6.67" height="17.2" fill="#0A0E0C"/>
<rect x="1103.97" y="977.9" width="6.67" height="17.2" fill="#0E4C62"/>
<rect x="1110.5" y="977.9" width="6.67" height="17.2" fill="#F7EC13"/>
<rect x="1117.02" y="977.9" width="6.67" height="17.2" fill="#0E4C62"/>
<rect x="1123.54" y="977.9" width="6.67" height="17.2" fill="#082A38"/>
<rect x="1130.07" y="977.9" width="6.67" height="17.2" fill="#0E4C62"/>
<rect x="1136.59" y="977.9" width="6.67" height="17.2" fill="#F7EC13"/>
<rect x="1143.11" y="977.9" width="6.67" height="17.2" fill="#6C6C26"/>
<rect x="1149.64" y="977.9" width="13.2" height="17.2" fill="#082A38"/>
<rect x="1162.68" y="977.9" width="6.67" height="17.2" fill="#52521E"/>
<rect x="1169.21" y="977.9" width="6.67" height="17.2" fill="#0A0E0C"/>
<rect x="1175.73" y="977.9" width="6.67" height="17.2" fill="#2A2812"/>
<rect x="1182.25" y="977.9" width="6.67" height="17.2" fill="#0E4C62"/>
<rect x="1188.78" y="977.9" width="6.67" height="17.2" fill="#F7EC13"/>
<text x="795.9" y="1008" text-anchor="end" class="i">FRS2</text>
<rect x="803.9" y="995" width="6.67" height="17.2" fill="#0E4C62"/>
<rect x="810.42" y="995" width="6.67" height="17.2" fill="#F7EC13"/>
<rect x="816.95" y="995" width="6.67" height="17.2" fill="#2A2812"/>
<rect x="823.47" y="995" width="6.67" height="17.2" fill="#125C78"/>
<rect x="829.99" y="995" width="6.67" height="17.2" fill="#88882C"/>
<rect x="836.52" y="995" width="6.67" height="17.2" fill="#0A0E0C"/>
<rect x="843.04" y="995" width="6.67" height="17.2" fill="#082A38"/>
<rect x="849.56" y="995" width="6.67" height="17.2" fill="#1C9CCC"/>
<rect x="856.09" y="995" width="6.67" height="17.2" fill="#F7EC13"/>
<rect x="862.61" y="995" width="6.67" height="17.2" fill="#0E4C62"/>
<rect x="869.13" y="995" width="6.67" height="17.2" fill="#2A2812"/>
<rect x="875.66" y="995" width="13.2" height="17.2" fill="#F7EC13"/>
<rect x="888.7" y="995" width="6.67" height="17.2" fill="#0A0E0C"/>
<rect x="895.23" y="995" width="19.72" height="17.2" fill="#F7EC13"/>
<rect x="914.8" y="995" width="6.67" height="17.2" fill="#1C9CCC"/>
<rect x="921.32" y="995" width="6.67" height="17.2" fill="#F7EC13"/>
<rect x="927.84" y="995" width="6.67" height="17.2" fill="#52521E"/>
<rect x="934.37" y="995" width="58.86" height="17.2" fill="#F7EC13"/>
<rect x="993.08" y="995" width="6.67" height="17.2" fill="#52521E"/>
<rect x="999.6" y="995" width="19.72" height="17.2" fill="#F7EC13"/>
<rect x="1019.17" y="995" width="6.67" height="17.2" fill="#2A2812"/>
<rect x="1025.69" y="995" width="6.67" height="17.2" fill="#25B5E5"/>
<rect x="1032.22" y="995" width="6.67" height="17.2" fill="#082A38"/>
<rect x="1038.74" y="995" width="6.67" height="17.2" fill="#16759A"/>
<rect x="1045.26" y="995" width="6.67" height="17.2" fill="#082A38"/>
<rect x="1051.79" y="995" width="6.67" height="17.2" fill="#2A2812"/>
<rect x="1058.31" y="995" width="6.67" height="17.2" fill="#1C9CCC"/>
<rect x="1064.83" y="995" width="6.67" height="17.2" fill="#F7EC13"/>
<rect x="1071.36" y="995" width="13.2" height="17.2" fill="#25B5E5"/>
<rect x="1084.4" y="995" width="6.67" height="17.2" fill="#BEBE30"/>
<rect x="1090.93" y="995" width="6.67" height="17.2" fill="#F7EC13"/>
<rect x="1097.45" y="995" width="6.67" height="17.2" fill="#52521E"/>
<rect x="1103.97" y="995" width="6.67" height="17.2" fill="#F7EC13"/>
<rect x="1110.5" y="995" width="6.67" height="17.2" fill="#BEBE30"/>
<rect x="1117.02" y="995" width="6.67" height="17.2" fill="#16759A"/>
<rect x="1123.54" y="995" width="6.67" height="17.2" fill="#2A2812"/>
<rect x="1130.07" y="995" width="6.67" height="17.2" fill="#25B5E5"/>
<rect x="1136.59" y="995" width="13.2" height="17.2" fill="#6C6C26"/>
<rect x="1149.64" y="995" width="6.67" height="17.2" fill="#88882C"/>
<rect x="1156.16" y="995" width="6.67" height="17.2" fill="#25B5E5"/>
<rect x="1162.68" y="995" width="6.67" height="17.2" fill="#16759A"/>
<rect x="1169.21" y="995" width="6.67" height="17.2" fill="#1C9CCC"/>
<rect x="1175.73" y="995" width="6.67" height="17.2" fill="#2A2812"/>
<rect x="1182.25" y="995" width="13.2" height="17.2" fill="#082A38"/>
<text x="795.9" y="1025.1" text-anchor="end" class="i">FRS3</text>
<rect x="803.9" y="1012.1" width="6.67" height="17.2" fill="#F7EC13"/>
<rect x="810.42" y="1012.1" width="6.67" height="17.2" fill="#25B5E5"/>
<rect x="816.95" y="1012.1" width="13.2" height="17.2" fill="#2A2812"/>
<rect x="829.99" y="1012.1" width="6.67" height="17.2" fill="#BEBE30"/>
<rect x="836.52" y="1012.1" width="6.67" height="17.2" fill="#88882C"/>
<rect x="843.04" y="1012.1" width="6.67" height="17.2" fill="#0E4C62"/>
<rect x="849.56" y="1012.1" width="6.67" height="17.2" fill="#E8E21E"/>
<rect x="856.09" y="1012.1" width="6.67" height="17.2" fill="#F7EC13"/>
<rect x="862.61" y="1012.1" width="6.67" height="17.2" fill="#BEBE30"/>
<rect x="869.13" y="1012.1" width="6.67" height="17.2" fill="#25B5E5"/>
<rect x="875.66" y="1012.1" width="6.67" height="17.2" fill="#52521E"/>
<rect x="882.18" y="1012.1" width="6.67" height="17.2" fill="#0E4C62"/>
<rect x="888.7" y="1012.1" width="6.67" height="17.2" fill="#25B5E5"/>
<rect x="895.23" y="1012.1" width="6.67" height="17.2" fill="#88882C"/>
<rect x="901.75" y="1012.1" width="6.67" height="17.2" fill="#F7EC13"/>
<rect x="908.27" y="1012.1" width="6.67" height="17.2" fill="#25B5E5"/>
<rect x="914.8" y="1012.1" width="6.67" height="17.2" fill="#F7EC13"/>
<rect x="921.32" y="1012.1" width="6.67" height="17.2" fill="#0E4C62"/>
<rect x="927.84" y="1012.1" width="6.67" height="17.2" fill="#BEBE30"/>
<rect x="934.37" y="1012.1" width="6.67" height="17.2" fill="#2A2812"/>
<rect x="940.89" y="1012.1" width="6.67" height="17.2" fill="#1C9CCC"/>
<rect x="947.41" y="1012.1" width="6.67" height="17.2" fill="#6C6C26"/>
<rect x="953.94" y="1012.1" width="6.67" height="17.2" fill="#BEBE30"/>
<rect x="960.46" y="1012.1" width="6.67" height="17.2" fill="#88882C"/>
<rect x="966.98" y="1012.1" width="6.67" height="17.2" fill="#BEBE30"/>
<rect x="973.51" y="1012.1" width="6.67" height="17.2" fill="#F7EC13"/>
<rect x="980.03" y="1012.1" width="6.67" height="17.2" fill="#082A38"/>
<rect x="986.55" y="1012.1" width="13.2" height="17.2" fill="#BEBE30"/>
<rect x="999.6" y="1012.1" width="6.67" height="17.2" fill="#F7EC13"/>
<rect x="1006.12" y="1012.1" width="6.67" height="17.2" fill="#0A0E0C"/>
<rect x="1012.65" y="1012.1" width="6.67" height="17.2" fill="#52521E"/>
<rect x="1019.17" y="1012.1" width="6.67" height="17.2" fill="#082A38"/>
<rect x="1025.69" y="1012.1" width="6.67" height="17.2" fill="#F7EC13"/>
<rect x="1032.22" y="1012.1" width="6.67" height="17.2" fill="#1C9CCC"/>
<rect x="1038.74" y="1012.1" width="13.2" height="17.2" fill="#0A0E0C"/>
<rect x="1051.79" y="1012.1" width="6.67" height="17.2" fill="#F7EC13"/>
<rect x="1058.31" y="1012.1" width="6.67" height="17.2" fill="#082A38"/>
<rect x="1064.83" y="1012.1" width="6.67" height="17.2" fill="#F7EC13"/>
<rect x="1071.36" y="1012.1" width="6.67" height="17.2" fill="#52521E"/>
<rect x="1077.88" y="1012.1" width="6.67" height="17.2" fill="#2A2812"/>
<rect x="1084.4" y="1012.1" width="6.67" height="17.2" fill="#6C6C26"/>
<rect x="1090.93" y="1012.1" width="6.67" height="17.2" fill="#25B5E5"/>
<rect x="1097.45" y="1012.1" width="6.67" height="17.2" fill="#6C6C26"/>
<rect x="1103.97" y="1012.1" width="6.67" height="17.2" fill="#082A38"/>
<rect x="1110.5" y="1012.1" width="6.67" height="17.2" fill="#88882C"/>
<rect x="1117.02" y="1012.1" width="6.67" height="17.2" fill="#BEBE30"/>
<rect x="1123.54" y="1012.1" width="6.67" height="17.2" fill="#082A38"/>
<rect x="1130.07" y="1012.1" width="6.67" height="17.2" fill="#125C78"/>
<rect x="1136.59" y="1012.1" width="6.67" height="17.2" fill="#BEBE30"/>
<rect x="1143.11" y="1012.1" width="13.2" height="17.2" fill="#25B5E5"/>
<rect x="1156.16" y="1012.1" width="6.67" height="17.2" fill="#F7EC13"/>
<rect x="1162.68" y="1012.1" width="6.67" height="17.2" fill="#125C78"/>
<rect x="1169.21" y="1012.1" width="6.67" height="17.2" fill="#082A38"/>
<rect x="1175.73" y="1012.1" width="6.67" height="17.2" fill="#25B5E5"/>
<rect x="1182.25" y="1012.1" width="6.67" height="17.2" fill="#88882C"/>
<rect x="1188.78" y="1012.1" width="6.67" height="17.2" fill="#1C9CCC"/>
<text x="795.9" y="1042.2" text-anchor="end" class="i">IGF2</text>
<rect x="803.9" y="1029.2" width="13.2" height="17.2" fill="#F7EC13"/>
<rect x="816.95" y="1029.2" width="6.67" height="17.2" fill="#0E4C62"/>
<rect x="823.47" y="1029.2" width="6.67" height="17.2" fill="#52521E"/>
<rect x="829.99" y="1029.2" width="6.67" height="17.2" fill="#88882C"/>
<rect x="836.52" y="1029.2" width="6.67" height="17.2" fill="#16759A"/>
<rect x="843.04" y="1029.2" width="6.67" height="17.2" fill="#BEBE30"/>
<rect x="849.56" y="1029.2" width="6.67" height="17.2" fill="#F7EC13"/>
<rect x="856.09" y="1029.2" width="6.67" height="17.2" fill="#52521E"/>
<rect x="862.61" y="1029.2" width="6.67" height="17.2" fill="#0E4C62"/>
<rect x="869.13" y="1029.2" width="19.72" height="17.2" fill="#F7EC13"/>
<rect x="888.7" y="1029.2" width="6.67" height="17.2" fill="#082A38"/>
<rect x="895.23" y="1029.2" width="6.67" height="17.2" fill="#F7EC13"/>
<rect x="901.75" y="1029.2" width="6.67" height="17.2" fill="#2A2812"/>
<rect x="908.27" y="1029.2" width="6.67" height="17.2" fill="#E8E21E"/>
<rect x="914.8" y="1029.2" width="6.67" height="17.2" fill="#BEBE30"/>
<rect x="921.32" y="1029.2" width="6.67" height="17.2" fill="#6C6C26"/>
<rect x="927.84" y="1029.2" width="6.67" height="17.2" fill="#125C78"/>
<rect x="934.37" y="1029.2" width="13.2" height="17.2" fill="#F7EC13"/>
<rect x="947.41" y="1029.2" width="6.67" height="17.2" fill="#88882C"/>
<rect x="953.94" y="1029.2" width="6.67" height="17.2" fill="#F7EC13"/>
<rect x="960.46" y="1029.2" width="6.67" height="17.2" fill="#0A0E0C"/>
<rect x="966.98" y="1029.2" width="19.72" height="17.2" fill="#F7EC13"/>
<rect x="986.55" y="1029.2" width="6.67" height="17.2" fill="#BEBE30"/>
<rect x="993.08" y="1029.2" width="26.24" height="17.2" fill="#F7EC13"/>
<rect x="1019.17" y="1029.2" width="26.24" height="17.2" fill="#082A38"/>
<rect x="1045.26" y="1029.2" width="6.67" height="17.2" fill="#F7EC13"/>
<rect x="1051.79" y="1029.2" width="6.67" height="17.2" fill="#E8E21E"/>
<rect x="1058.31" y="1029.2" width="6.67" height="17.2" fill="#125C78"/>
<rect x="1064.83" y="1029.2" width="6.67" height="17.2" fill="#BEBE30"/>
<rect x="1071.36" y="1029.2" width="19.72" height="17.2" fill="#F7EC13"/>
<rect x="1090.93" y="1029.2" width="6.67" height="17.2" fill="#082A38"/>
<rect x="1097.45" y="1029.2" width="6.67" height="17.2" fill="#0E4C62"/>
<rect x="1103.97" y="1029.2" width="6.67" height="17.2" fill="#0A0E0C"/>
<rect x="1110.5" y="1029.2" width="6.67" height="17.2" fill="#F7EC13"/>
<rect x="1117.02" y="1029.2" width="6.67" height="17.2" fill="#0E4C62"/>
<rect x="1123.54" y="1029.2" width="6.67" height="17.2" fill="#88882C"/>
<rect x="1130.07" y="1029.2" width="6.67" height="17.2" fill="#16759A"/>
<rect x="1136.59" y="1029.2" width="6.67" height="17.2" fill="#0E4C62"/>
<rect x="1143.11" y="1029.2" width="13.2" height="17.2" fill="#52521E"/>
<rect x="1156.16" y="1029.2" width="6.67" height="17.2" fill="#0A0E0C"/>
<rect x="1162.68" y="1029.2" width="6.67" height="17.2" fill="#082A38"/>
<rect x="1169.21" y="1029.2" width="6.67" height="17.2" fill="#16759A"/>
<rect x="1175.73" y="1029.2" width="6.67" height="17.2" fill="#0E4C62"/>
<rect x="1182.25" y="1029.2" width="6.67" height="17.2" fill="#2A2812"/>
<rect x="1188.78" y="1029.2" width="6.67" height="17.2" fill="#F7EC13"/>
<text x="795.9" y="1059.3" text-anchor="end" class="i">IRS4</text>
<rect x="803.9" y="1046.3" width="13.2" height="17.2" fill="#2A2812"/>
<rect x="816.95" y="1046.3" width="6.67" height="17.2" fill="#0A0E0C"/>
<rect x="823.47" y="1046.3" width="13.2" height="17.2" fill="#F7EC13"/>
<rect x="836.52" y="1046.3" width="13.2" height="17.2" fill="#2A2812"/>
<rect x="849.56" y="1046.3" width="6.67" height="17.2" fill="#0A0E0C"/>
<rect x="856.09" y="1046.3" width="6.67" height="17.2" fill="#52521E"/>
<rect x="862.61" y="1046.3" width="6.67" height="17.2" fill="#0A0E0C"/>
<rect x="869.13" y="1046.3" width="13.2" height="17.2" fill="#2A2812"/>
<rect x="882.18" y="1046.3" width="6.67" height="17.2" fill="#0A0E0C"/>
<rect x="888.7" y="1046.3" width="6.67" height="17.2" fill="#F7EC13"/>
<rect x="895.23" y="1046.3" width="6.67" height="17.2" fill="#2A2812"/>
<rect x="901.75" y="1046.3" width="78.43" height="17.2" fill="#0A0E0C"/>
<rect x="980.03" y="1046.3" width="6.67" height="17.2" fill="#2A2812"/>
<rect x="986.55" y="1046.3" width="13.2" height="17.2" fill="#0A0E0C"/>
<rect x="999.6" y="1046.3" width="6.67" height="17.2" fill="#2A2812"/>
<rect x="1006.12" y="1046.3" width="6.67" height="17.2" fill="#0A0E0C"/>
<rect x="1012.65" y="1046.3" width="6.67" height="17.2" fill="#F7EC13"/>
<rect x="1019.17" y="1046.3" width="6.67" height="17.2" fill="#2A2812"/>
<rect x="1025.69" y="1046.3" width="13.2" height="17.2" fill="#0A0E0C"/>
<rect x="1038.74" y="1046.3" width="6.67" height="17.2" fill="#52521E"/>
<rect x="1045.26" y="1046.3" width="6.67" height="17.2" fill="#2A2812"/>
<rect x="1051.79" y="1046.3" width="32.77" height="17.2" fill="#0A0E0C"/>
<rect x="1084.4" y="1046.3" width="13.2" height="17.2" fill="#2A2812"/>
<rect x="1097.45" y="1046.3" width="6.67" height="17.2" fill="#6C6C26"/>
<rect x="1103.97" y="1046.3" width="6.67" height="17.2" fill="#0A0E0C"/>
<rect x="1110.5" y="1046.3" width="6.67" height="17.2" fill="#F7EC13"/>
<rect x="1117.02" y="1046.3" width="6.67" height="17.2" fill="#0A0E0C"/>
<rect x="1123.54" y="1046.3" width="6.67" height="17.2" fill="#2A2812"/>
<rect x="1130.07" y="1046.3" width="45.81" height="17.2" fill="#0A0E0C"/>
<rect x="1175.73" y="1046.3" width="6.67" height="17.2" fill="#2A2812"/>
<rect x="1182.25" y="1046.3" width="6.67" height="17.2" fill="#52521E"/>
<rect x="1188.78" y="1046.3" width="6.67" height="17.2" fill="#2A2812"/>
<text x="795.9" y="1076.4" text-anchor="end" class="i">PTPN11</text>
<rect x="803.9" y="1063.4" width="6.67" height="17.2" fill="#25B5E5"/>
<rect x="810.42" y="1063.4" width="6.67" height="17.2" fill="#F7EC13"/>
<rect x="816.95" y="1063.4" width="13.2" height="17.2" fill="#082A38"/>
<rect x="829.99" y="1063.4" width="6.67" height="17.2" fill="#F7EC13"/>
<rect x="836.52" y="1063.4" width="6.67" height="17.2" fill="#16759A"/>
<rect x="843.04" y="1063.4" width="6.67" height="17.2" fill="#2A2812"/>
<rect x="849.56" y="1063.4" width="6.67" height="17.2" fill="#16759A"/>
<rect x="856.09" y="1063.4" width="6.67" height="17.2" fill="#88882C"/>
<rect x="862.61" y="1063.4" width="6.67" height="17.2" fill="#1C9CCC"/>
<rect x="869.13" y="1063.4" width="6.67" height="17.2" fill="#52521E"/>
<rect x="875.66" y="1063.4" width="6.67" height="17.2" fill="#16759A"/>
<rect x="882.18" y="1063.4" width="6.67" height="17.2" fill="#2A2812"/>
<rect x="888.7" y="1063.4" width="13.2" height="17.2" fill="#F7EC13"/>
<rect x="901.75" y="1063.4" width="6.67" height="17.2" fill="#2A2812"/>
<rect x="908.27" y="1063.4" width="13.2" height="17.2" fill="#F7EC13"/>
<rect x="921.32" y="1063.4" width="6.67" height="17.2" fill="#082A38"/>
<rect x="927.84" y="1063.4" width="6.67" height="17.2" fill="#16759A"/>
<rect x="934.37" y="1063.4" width="6.67" height="17.2" fill="#25B5E5"/>
<rect x="940.89" y="1063.4" width="6.67" height="17.2" fill="#F7EC13"/>
<rect x="947.41" y="1063.4" width="6.67" height="17.2" fill="#125C78"/>
<rect x="953.94" y="1063.4" width="6.67" height="17.2" fill="#BEBE30"/>
<rect x="960.46" y="1063.4" width="13.2" height="17.2" fill="#16759A"/>
<rect x="973.51" y="1063.4" width="6.67" height="17.2" fill="#1C9CCC"/>
<rect x="980.03" y="1063.4" width="6.67" height="17.2" fill="#16759A"/>
<rect x="986.55" y="1063.4" width="6.67" height="17.2" fill="#0A0E0C"/>
<rect x="993.08" y="1063.4" width="6.67" height="17.2" fill="#25B5E5"/>
<rect x="999.6" y="1063.4" width="6.67" height="17.2" fill="#88882C"/>
<rect x="1006.12" y="1063.4" width="19.72" height="17.2" fill="#25B5E5"/>
<rect x="1025.69" y="1063.4" width="6.67" height="17.2" fill="#1C9CCC"/>
<rect x="1032.22" y="1063.4" width="6.67" height="17.2" fill="#25B5E5"/>
<rect x="1038.74" y="1063.4" width="6.67" height="17.2" fill="#6C6C26"/>
<rect x="1045.26" y="1063.4" width="6.67" height="17.2" fill="#16759A"/>
<rect x="1051.79" y="1063.4" width="6.67" height="17.2" fill="#2A2812"/>
<rect x="1058.31" y="1063.4" width="19.72" height="17.2" fill="#25B5E5"/>
<rect x="1077.88" y="1063.4" width="6.67" height="17.2" fill="#1C9CCC"/>
<rect x="1084.4" y="1063.4" width="6.67" height="17.2" fill="#2A2812"/>
<rect x="1090.93" y="1063.4" width="6.67" height="17.2" fill="#F7EC13"/>
<rect x="1097.45" y="1063.4" width="6.67" height="17.2" fill="#2A2812"/>
<rect x="1103.97" y="1063.4" width="6.67" height="17.2" fill="#25B5E5"/>
<rect x="1110.5" y="1063.4" width="6.67" height="17.2" fill="#BEBE30"/>
<rect x="1117.02" y="1063.4" width="6.67" height="17.2" fill="#25B5E5"/>
<rect x="1123.54" y="1063.4" width="6.67" height="17.2" fill="#6C6C26"/>
<rect x="1130.07" y="1063.4" width="6.67" height="17.2" fill="#125C78"/>
<rect x="1136.59" y="1063.4" width="13.2" height="17.2" fill="#BEBE30"/>
<rect x="1149.64" y="1063.4" width="6.67" height="17.2" fill="#F7EC13"/>
<rect x="1156.16" y="1063.4" width="6.67" height="17.2" fill="#125C78"/>
<rect x="1162.68" y="1063.4" width="6.67" height="17.2" fill="#2A2812"/>
<rect x="1169.21" y="1063.4" width="6.67" height="17.2" fill="#F7EC13"/>
<rect x="1175.73" y="1063.4" width="13.2" height="17.2" fill="#082A38"/>
<rect x="1188.78" y="1063.4" width="6.67" height="17.2" fill="#52521E"/>
<text x="796.4" y="1106.8" text-anchor="end">Cancer type</text>
<rect x="803.9" y="1090.6" width="6.67" height="20.7" fill="#0A9390"/>
<rect x="810.42" y="1090.6" width="6.67" height="20.7" fill="#7E4FA6"/>
<rect x="816.95" y="1090.6" width="6.67" height="20.7" fill="#A8D8EA"/>
<rect x="823.47" y="1090.6" width="13.2" height="20.7" fill="#000000"/>
<rect x="836.52" y="1090.6" width="6.67" height="20.7" fill="#FFD400"/>
<rect x="843.04" y="1090.6" width="6.67" height="20.7" fill="#F9BFCB"/>
<rect x="849.56" y="1090.6" width="6.67" height="20.7" fill="#6DBE45"/>
<rect x="856.09" y="1090.6" width="19.72" height="20.7" fill="#0A9390"/>
<rect x="875.66" y="1090.6" width="13.2" height="20.7" fill="#F7EC13"/>
<rect x="888.7" y="1090.6" width="6.67" height="20.7" fill="#F9BFCB"/>
<rect x="895.23" y="1090.6" width="13.2" height="20.7" fill="#F7EC13"/>
<rect x="908.27" y="1090.6" width="6.67" height="20.7" fill="#F9BFCB"/>
<rect x="914.8" y="1090.6" width="6.67" height="20.7" fill="#BDBDBD"/>
<rect x="921.32" y="1090.6" width="19.72" height="20.7" fill="#ED1C24"/>
<rect x="940.89" y="1090.6" width="6.67" height="20.7" fill="#0A9390"/>
<rect x="947.41" y="1090.6" width="71.91" height="20.7" fill="#F7EC13"/>
<rect x="1019.17" y="1090.6" width="6.67" height="20.7" fill="#FDD9B5"/>
<rect x="1025.69" y="1090.6" width="19.72" height="20.7" fill="#F9BFCB"/>
<rect x="1045.26" y="1090.6" width="19.72" height="20.7" fill="#0A9390"/>
<rect x="1064.83" y="1090.6" width="6.67" height="20.7" fill="#F7EC13"/>
<rect x="1071.36" y="1090.6" width="13.2" height="20.7" fill="#2E2A80"/>
<rect x="1084.4" y="1090.6" width="6.67" height="20.7" fill="#0A9390"/>
<rect x="1090.93" y="1090.6" width="6.67" height="20.7" fill="#7E4FA6"/>
<rect x="1097.45" y="1090.6" width="6.67" height="20.7" fill="#A8D8EA"/>
<rect x="1103.97" y="1090.6" width="6.67" height="20.7" fill="#F7EC13"/>
<rect x="1110.5" y="1090.6" width="6.67" height="20.7" fill="#8E6FB4"/>
<rect x="1117.02" y="1090.6" width="6.67" height="20.7" fill="#F9BFCB"/>
<rect x="1123.54" y="1090.6" width="13.2" height="20.7" fill="#F7941D"/>
<rect x="1136.59" y="1090.6" width="6.67" height="20.7" fill="#0A9390"/>
<rect x="1143.11" y="1090.6" width="13.2" height="20.7" fill="#F9BFCB"/>
<rect x="1156.16" y="1090.6" width="13.2" height="20.7" fill="#2E2A80"/>
<rect x="1169.21" y="1090.6" width="6.67" height="20.7" fill="#BFD730"/>
<rect x="1175.73" y="1090.6" width="6.67" height="20.7" fill="#7E4FA6"/>
<rect x="1182.25" y="1090.6" width="6.67" height="20.7" fill="#000000"/>
<rect x="1188.78" y="1090.6" width="6.67" height="20.7" fill="#FDD9B5"/>
<text x="855.2" y="1143.3" text-anchor="end">Upstream SV</text>
<line x1="864.6" y1="1121.5" x2="864.6" y2="1148.3" stroke="#000" stroke-width="1.4"/>
<rect x="884.9" y="1126" width="16.8" height="16.6" fill="#000"/>
<text x="909.4" y="1140" style="font-size:14.5px">0–20 kb</text>
<rect x="982.2" y="1126" width="17.3" height="16.6" fill="#F7941D"/>
<text x="1008.3" y="1140" style="font-size:14.5px">20–50 kb</text>
<rect x="1093" y="1126.4" width="16.6" height="16" fill="#F9ED69" stroke="#777" stroke-width="0.8"/>
<text x="1118.3" y="1140" style="font-size:14.5px">50–100 kb</text>
<rect x="779.5" y="1168.3" width="17.2" height="7.7" fill="#8E8CC8"/>
<text x="804" y="1176.2" style="font-size:14.5px">Amplification</text>
<text x="1026.8" y="1172" text-anchor="end">Differential</text>
<text x="1026.8" y="1188.6" text-anchor="end">expression</text>
<line x1="1034.7" y1="1156.8" x2="1034.7" y2="1192.4" stroke="#000" stroke-width="1.4"/>
<rect x="1052.9" y="1155.7" width="17" height="15.4" fill="#F7EC13" stroke="#222" stroke-width="1"/>
<text x="1076.5" y="1170.4" style="font-size:14.5px">Higher</text>
<rect x="1052.9" y="1179.5" width="17" height="15.4" fill="#25B5E5" stroke="#222" stroke-width="1"/>
<text x="1076.5" y="1192.4" style="font-size:14.5px">Lower</text>
<text x="764.6" y="1231" text-anchor="end">Cancer</text>
<text x="764.6" y="1246.2" text-anchor="end">type</text>
<line x1="770.7" y1="1208.4" x2="770.7" y2="1263.6" stroke="#000" stroke-width="1.4"/>
<text x="1198.8" y="1218.7" text-anchor="end" letter-spacing="0.03"><tspan fill="#FFC20E">bladder</tspan>, <tspan fill="#F9BFCB">breast</tspan>, <tspan fill="#16908C">cervix</tspan>, <tspan fill="#F7941D">leukemia</tspan>, <tspan fill="#2E3192">colorectal</tspan>, <tspan fill="#A6CE39">lymphoma</tspan>,</text>
<text x="1198.8" y="1234.4" text-anchor="end" letter-spacing="0.12"><tspan fill="#8E6FB4">eosophagus</tspan>, <tspan fill="#BDBDBD">cns</tspan>, <tspan fill="#B0305A">head/neck</tspan>, <tspan fill="#F7941D">kidney</tspan>, <tspan fill="#6DBE45">liver-biliary</tspan>, <tspan fill="#ED1C24">lung</tspan>,</text>
<text x="1198.8" y="1251.3" text-anchor="end" letter-spacing="0.04"><tspan fill="#16908C">ovary</tspan>, <tspan fill="#7E4FA6">pancreas</tspan>, <tspan fill="#A8D8EA">prostate</tspan>, <tspan fill="#D7DF23">sarcoma</tspan>, <tspan fill="#000">skin</tspan>, <tspan fill="#8E6FB4">stomach</tspan>,</text>
<text x="1198.8" y="1267.8" text-anchor="end" letter-spacing="-0.04"><tspan fill="#C8C8C8">thyroid</tspan>, <tspan fill="#FDD9B5">uterus</tspan></text>
</g>
</svg>
</body></html>
